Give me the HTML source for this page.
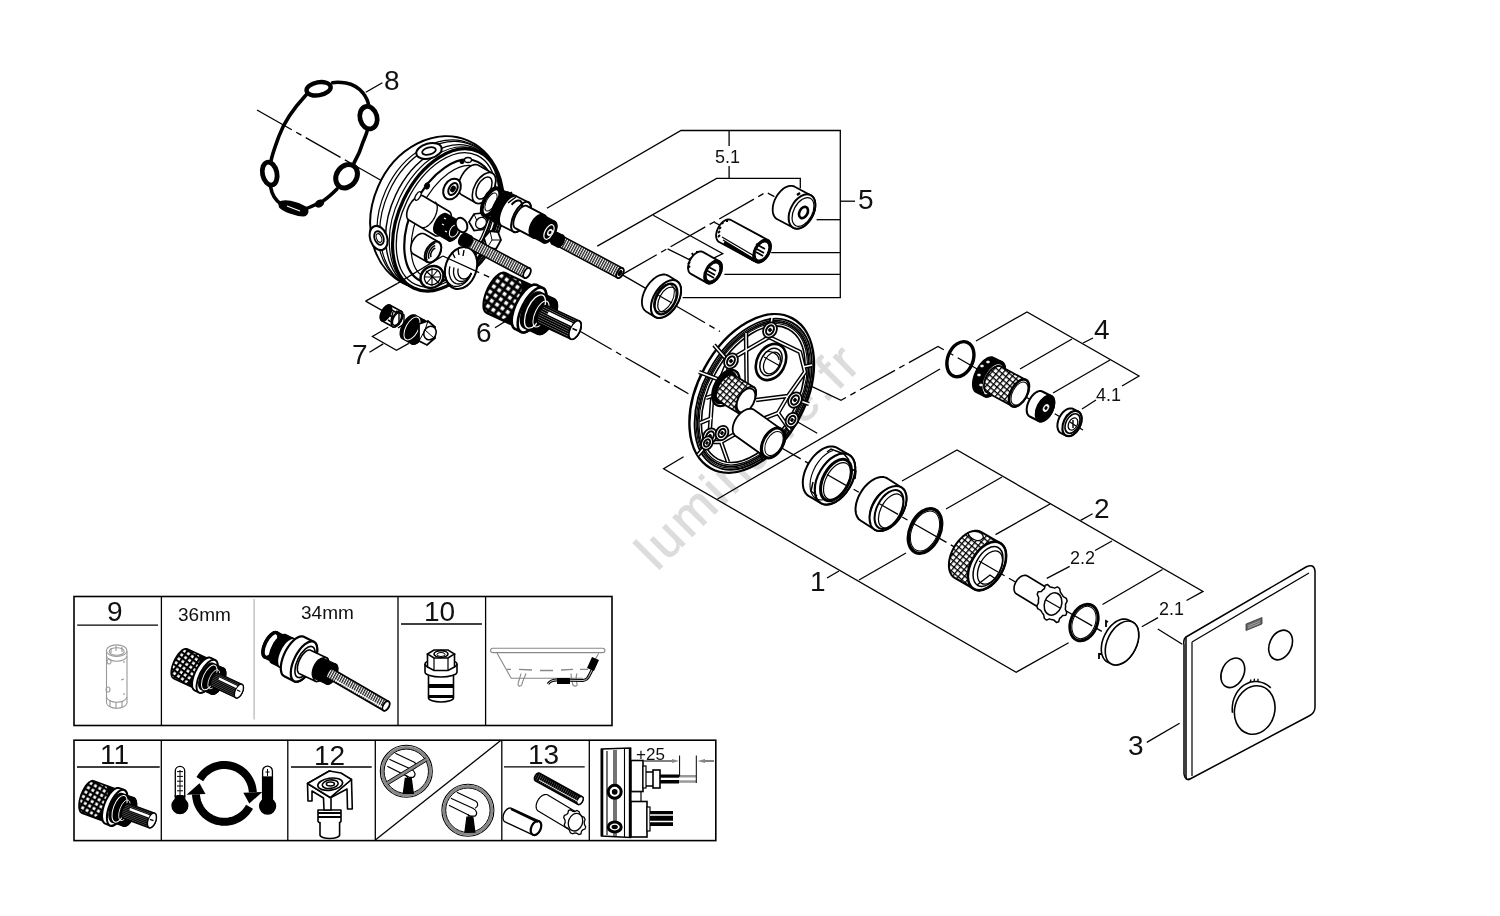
<!DOCTYPE html>
<html><head><meta charset="utf-8"><title>Parts diagram</title>
<style>
html,body{margin:0;padding:0;background:#fff;width:1500px;height:916px;overflow:hidden}
svg{display:block;font-family:"Liberation Sans",sans-serif;will-change:transform}
.l{stroke:#000;stroke-width:1.3;fill:none}
.dd{stroke:#000;stroke-width:1.3;fill:none;stroke-dasharray:40 5 6 5}
.t{font-size:28px;fill:#111}
.s{font-size:18px;fill:#111}
</style></head><body>
<svg width="1500" height="916" viewBox="0 0 1500 916">
<defs>
<pattern id="knurl" width="6" height="6" patternUnits="userSpaceOnUse" patternTransform="rotate(30)">
<rect width="6" height="6" fill="#000"/><rect x="1.5" y="1.5" width="3" height="3" fill="#fff"/>
</pattern>
<pattern id="knurl2" width="5" height="5" patternUnits="userSpaceOnUse" patternTransform="rotate(40)">
<rect width="5" height="5" fill="#000"/><rect x="1.3" y="1.3" width="2.6" height="2.6" fill="#fff"/>
</pattern>
<pattern id="knurl3" width="6.5" height="6.5" patternUnits="userSpaceOnUse" patternTransform="rotate(35)">
<rect width="6.5" height="6.5" fill="#000"/><rect x="1.6" y="1.6" width="3.6" height="3.6" fill="#fff"/>
</pattern>
<pattern id="lattice" width="4.6" height="4.6" patternUnits="userSpaceOnUse" patternTransform="rotate(40)">
<rect width="4.6" height="4.6" fill="#fff"/><rect width="4.6" height="1.3" fill="#000"/><rect width="1.3" height="4.6" fill="#000"/>
</pattern>
<pattern id="thread2" width="2.2" height="10" patternUnits="userSpaceOnUse" patternTransform="rotate(28)">
<rect width="2.2" height="10" fill="#555"/><rect width="1.5" height="10" fill="#000"/>
</pattern>
<pattern id="thread" width="2.4" height="10" patternUnits="userSpaceOnUse" patternTransform="rotate(28)">
<rect width="2.4" height="10" fill="#fff"/><rect width="1.3" height="10" fill="#222"/>
</pattern>
<pattern id="spline" width="2.2" height="10" patternUnits="userSpaceOnUse" patternTransform="rotate(-64)">
<rect width="2.2" height="10" fill="#fff"/><rect width="1.9" height="10" fill="#000"/>
</pattern>
</defs>

<text x="0" y="0" transform="translate(657,572) rotate(-45)" font-size="52" letter-spacing="3" fill="#dcdcdc" stroke="#dcdcdc" stroke-width="0.8">luminaire.fr</text>

<g class="l">
<polyline points="546.9,208.3 681,130.5 840.3,130.5 840.3,297.7 682.6,297.7"/>
<line x1="840.3" y1="201.2" x2="855" y2="201.2"/>
<line x1="816.6" y1="219.7" x2="840.3" y2="219.7"/>
<line x1="771.2" y1="252.6" x2="840.3" y2="252.6"/>
<line x1="724.4" y1="274.3" x2="840.3" y2="274.3"/>
<line x1="729.1" y1="130.5" x2="729.1" y2="146"/>
<line x1="729.1" y1="166" x2="729.1" y2="178.4"/>
<polyline points="597.3,246.1 716.6,178.4 800.3,178.4 800.3,188.4"/>
<polyline points="653.2,215.3 722.8,253.6 713.2,258.4"/>
<line x1="382.4" y1="82.7" x2="365.8" y2="92.3"/>
<polyline points="397.5,283.4 365.6,301.1"/>
<polyline points="388.2,327.2 372.4,336.5 396.5,350.3 408.8,343.4"/>
<line x1="369.5" y1="352.2" x2="383.2" y2="343.9"/>
<line x1="495" y1="327.7" x2="510.5" y2="318.3"/>
<polyline points="976,341 1027,312 1139,376 1122,386"/>
<line x1="1096" y1="400" x2="1082" y2="409"/>
<line x1="1072" y1="339" x2="1020" y2="369"/>
<line x1="1110" y1="360" x2="1053" y2="393"/>
<line x1="1083" y1="343" x2="1093" y2="338"/>
<line x1="717.2" y1="499.2" x2="940" y2="369"/>
<line x1="796" y1="421" x2="817.2" y2="433.2"/>
<polyline points="683.6,456.8 663.6,468.8 1016.2,672.2 1068.6,642.7"/>
<line x1="859" y1="580" x2="906" y2="553"/>
<line x1="827" y1="578" x2="839" y2="571"/>
<polyline points="902,481 957,450 1203,591.4 1186.5,600.5"/>
<line x1="946" y1="509" x2="1002" y2="477"/>
<line x1="995.5" y1="534.6" x2="1050" y2="504"/>
<line x1="1080.6" y1="520.4" x2="1092.6" y2="513.8"/>
<line x1="1095" y1="550.5" x2="1112" y2="541"/>
<line x1="1046.8" y1="578.3" x2="1069.7" y2="566.3"/>
<line x1="1102.5" y1="604.5" x2="1162.5" y2="569.5"/>
<line x1="1141.8" y1="626.8" x2="1158" y2="617.6"/>
<line x1="1146.8" y1="742.4" x2="1179.6" y2="723.3"/>
</g>
<g class="dd">
<line x1="257" y1="110" x2="383" y2="181.5"/>
<line x1="577" y1="329.5" x2="688.4" y2="393.7"/>
<polyline points="622,274.6 766,192.2 774.4,196.6"/>
<line x1="667.6" y1="248.8" x2="692.8" y2="261.4"/>
<line x1="714.4" y1="222.4" x2="721.6" y2="226"/>
<line x1="622" y1="274.6" x2="720" y2="331.5"/>
<line x1="365.6" y1="301.1" x2="383.7" y2="311.4"/>
<polyline points="810,385.6 841,400.3 938,346.4 1083,430"/>
<line x1="766" y1="439" x2="1125" y2="644.7"/>
<line x1="1157.8" y1="629" x2="1182.3" y2="644.2"/>
</g>
<g class="t">
<text x="384" y="90">8</text>
<text x="858" y="209">5</text>
<text x="476" y="342">6</text>
<text x="352" y="364">7</text>
<text x="1094" y="339">4</text>
<text x="810" y="591">1</text>
<text x="1094" y="518">2</text>
<text x="1128" y="755">3</text>
</g>
<g class="s">
<text x="715" y="163">5.1</text>
<text x="1096" y="401">4.1</text>
<text x="1070" y="564">2.2</text>
<text x="1159" y="615">2.1</text>
</g>

<g stroke="#000" fill="none" stroke-linecap="round">
<path stroke-width="3.6" d="M306,95 C294,108 284,122 279,136 C275,147 272,155 271,161 M270.6,187 C272,195 275,200 281,204 M305,209 C311,207 317,204 323,201 C329,197 333,193 337,189 M354,163 C358,156 361,149 363,142 C365,137 367,133 367.6,129 M368.5,105 C368,101 366,97 363,93 C358,87 352,84 346,83 C340,82 336,82 332.6,82.7"/>
</g>
<ellipse cx="318.6" cy="88.8" rx="12.2" ry="6.5" transform="rotate(-10 318.6 88.8)" fill="#fff" stroke="#000" stroke-width="4.4" />
<ellipse cx="368.5" cy="117.7" rx="11.4" ry="8.5" transform="rotate(75 368.5 117.7)" fill="#fff" stroke="#000" stroke-width="4.8" />
<ellipse cx="269.7" cy="173.6" rx="11.6" ry="7.2" transform="rotate(78 269.7 173.6)" fill="#fff" stroke="#000" stroke-width="4.8" />
<ellipse cx="346.6" cy="176.2" rx="12.5" ry="10" transform="rotate(-55 346.6 176.2)" fill="#fff" stroke="#000" stroke-width="5" />
<path d="M279,203 C284,199 296,202 305,207 C309,210 308,215 303,215.5 C295,215 284,211 280,207 Z" fill="#000" stroke="#000" stroke-width="2"/>
<path d="M287,206 L300,211" stroke="#fff" stroke-width="1.2"/>
<ellipse cx="319.5" cy="203.5" rx="4.5" ry="3.2" transform="rotate(-30 319.5 203.5)" fill="#000" stroke="#000" stroke-width="1" />
<ellipse cx="437.1" cy="212.6" rx="78.3" ry="64.5" transform="rotate(-66.7 437.1 212.6)" fill="#fff" stroke="#000" stroke-width="2" />
<ellipse cx="439.8" cy="214.8" rx="77.5" ry="59.3" transform="rotate(-66 439.8 214.8)" fill="none" stroke="#000" stroke-width="1.2" />
<ellipse cx="440.9" cy="215.7" rx="77.1" ry="57.2" transform="rotate(-65.7 440.9 215.7)" fill="none" stroke="#000" stroke-width="1.2" />
<ellipse cx="443.3" cy="217.6" rx="76.4" ry="52.7" transform="rotate(-65.1 443.3 217.6)" fill="none" stroke="#000" stroke-width="1.4" />
<ellipse cx="444.8" cy="218.8" rx="75.9" ry="49.8" transform="rotate(-64.7 444.8 218.8)" fill="none" stroke="#000" stroke-width="1.2" />
<ellipse cx="429" cy="151" rx="13" ry="7.5" transform="rotate(-15 429 151)" fill="#fff" stroke="#000" stroke-width="2" />
<ellipse cx="429" cy="151" rx="7" ry="3.6" transform="rotate(-15 429 151)" fill="#fff" stroke="#000" stroke-width="1.8" />
<ellipse cx="378.6" cy="238" rx="8.5" ry="12.5" transform="rotate(-20 378.6 238)" fill="#fff" stroke="#000" stroke-width="2" />
<ellipse cx="379" cy="238" rx="4.5" ry="7" transform="rotate(-20 379 238)" fill="#fff" stroke="#000" stroke-width="1.8" />
<ellipse cx="379" cy="238" rx="2.5" ry="4.5" transform="rotate(-20 379 238)" fill="none" stroke="#000" stroke-width="1" />
<ellipse cx="412" cy="278" rx="7" ry="4" transform="rotate(20 412 278)" fill="#fff" stroke="#000" stroke-width="1.5" />
<ellipse cx="446.2" cy="219.9" rx="75.5" ry="47.2" transform="rotate(-64.4 446.2 219.9)" fill="#fff" stroke="#000" stroke-width="3.2" />
<ellipse cx="446.2" cy="219.9" rx="71.5" ry="43.5" transform="rotate(-64.4 446.2 219.9)" fill="none" stroke="#000" stroke-width="1.3" />
<ellipse cx="449.2" cy="221.4" rx="66" ry="38.5" transform="rotate(-64.4 449.2 221.4)" fill="none" stroke="#000" stroke-width="2.2" />
<ellipse cx="451.2" cy="222.4" rx="61" ry="33.5" transform="rotate(-64.4 451.2 222.4)" fill="none" stroke="#000" stroke-width="1.2" />
<path d="M492.4,173.2 L493.4,174 L494.2,174.9 L494.9,176.1 L495.4,177.5 L495.6,179.1 L495.7,180.8 L495.6,182.7 L495.2,184.6 L494.7,186.6 L494,188.7 L493.1,190.7 L492.1,192.6 L490.9,194.5 L489.7,196.3 L488.3,197.9 L486.8,199.4 L485.3,200.7 L483.8,201.7 L482.3,202.5 L480.8,203.1 L479.3,203.4 L478,203.5 L476.7,203.2 L475.6,202.8 L461.6,194.8 L460.6,194 L459.8,193.1 L459.1,191.9 L458.6,190.5 L458.4,188.9 L458.3,187.2 L458.4,185.3 L458.8,183.4 L459.3,181.4 L460,179.3 L460.9,177.3 L461.9,175.4 L463.1,173.5 L464.3,171.7 L465.7,170.1 L467.2,168.6 L468.7,167.3 L470.2,166.3 L471.7,165.5 L473.2,164.9 L474.7,164.6 L476,164.5 L477.3,164.8 L478.4,165.2Z" fill="#fff" stroke="#000" stroke-width="1.6" stroke-linejoin="round"/>
<ellipse cx="484" cy="188" rx="17" ry="9.4" transform="rotate(-60.3 484 188)" fill="#fff" stroke="#000" stroke-width="1.6" />
<ellipse cx="484" cy="188" rx="12" ry="6.5" transform="rotate(-62 484 188)" fill="#fff" stroke="#000" stroke-width="1.5" />
<ellipse cx="452" cy="189" rx="11" ry="8" transform="rotate(-60 452 189)" fill="#fff" stroke="#000" stroke-width="2" />
<ellipse cx="453" cy="189" rx="6.5" ry="4" transform="rotate(-60 453 189)" fill="#fff" stroke="#000" stroke-width="2" />
<ellipse cx="453" cy="189" rx="3" ry="2" transform="rotate(-60 453 189)" fill="#000" stroke="#000" stroke-width="1" />
<ellipse cx="468" cy="160" rx="3.5" ry="2.5" transform="rotate(0 468 160)" fill="#fff" stroke="#000" stroke-width="1.3" />
<ellipse cx="462" cy="162" rx="2" ry="1.6" transform="rotate(0 462 162)" fill="#000" stroke="#000" stroke-width="1" />
<path d="M449.2,211.5 L449.9,212 L450.5,212.8 L450.9,213.8 L451.2,214.9 L451.3,216.1 L451.3,217.5 L451.1,219 L450.8,220.6 L450.3,222.2 L449.7,223.8 L448.9,225.5 L448,227.1 L447,228.6 L446,230.1 L444.8,231.4 L443.6,232.6 L442.4,233.7 L441.2,234.5 L440,235.2 L438.8,235.7 L437.7,236 L436.6,236 L435.7,235.9 L434.8,235.5 L408.8,220 L408.1,219.5 L407.5,218.7 L407.1,217.7 L406.8,216.6 L406.7,215.4 L406.7,214 L406.9,212.5 L407.2,210.9 L407.7,209.3 L408.3,207.7 L409.1,206 L410,204.4 L411,202.9 L412,201.4 L413.2,200.1 L414.4,198.9 L415.6,197.8 L416.8,197 L418,196.3 L419.2,195.8 L420.3,195.5 L421.4,195.5 L422.3,195.6 L423.2,196Z" fill="#fff" stroke="#000" stroke-width="1.6" stroke-linejoin="round"/>
<polyline points="434.8,201.7 435.9,202.6 436.7,204 437.2,205.7 437.3,207.8 437.1,210.2 436.5,212.7 435.6,215.3 434.4,217.9 432.9,220.3 431.3,222.5 429.5,224.4 427.7,225.9 425.9,227 424.1,227.6 422.6,227.7 421.2,227.3" fill="none" stroke="#000" stroke-width="1.3"/>
<path d="M459.5,221.5 L460.1,221.9 L460.5,222.5 L460.9,223.2 L461.1,224.1 L461.3,225.1 L461.3,226.2 L461.1,227.4 L460.9,228.6 L460.5,229.9 L460,231.2 L459.4,232.5 L458.8,233.7 L458,235 L457.2,236.1 L456.3,237.2 L455.4,238.1 L454.4,239 L453.5,239.7 L452.5,240.2 L451.6,240.6 L450.7,240.9 L449.9,240.9 L449.2,240.8 L448.5,240.5 L435.5,233 L434.9,232.6 L434.5,232 L434.1,231.3 L433.9,230.4 L433.7,229.4 L433.7,228.3 L433.9,227.1 L434.1,225.9 L434.5,224.6 L435,223.3 L435.6,222 L436.2,220.8 L437,219.5 L437.8,218.4 L438.7,217.3 L439.6,216.4 L440.6,215.5 L441.5,214.8 L442.5,214.3 L443.4,213.9 L444.3,213.6 L445.1,213.6 L445.8,213.7 L446.5,214Z" fill="#000" stroke="#000" stroke-width="1.5" stroke-linejoin="round"/>
<ellipse cx="454" cy="231" rx="11" ry="5.5" transform="rotate(-60 454 231)" fill="#000" stroke="#000" stroke-width="1.5" />
<ellipse cx="454" cy="231" rx="6.5" ry="4" transform="rotate(-62 454 231)" fill="none" stroke="#fff" stroke-width="1" />
<path d="M444,218 l2,1 M442,224 l2,1 M445,231 l2,1" stroke="#fff" stroke-width="1.2"/>
<ellipse cx="461.5" cy="225" rx="5.5" ry="7.5" transform="rotate(-25 461.5 225)" fill="#fff" stroke="#000" stroke-width="2" />
<polygon points="469,222 474,214 483,213 488,220 483,229.5 474,230.5" fill="#fff" stroke="#000" stroke-width="1.7"/>
<polyline points="474,214 477,221 488,220 M477,221 474,230.5" fill="none" stroke="#000" stroke-width="1"/>
<ellipse cx="481" cy="223" rx="6" ry="5" transform="rotate(-50 481 223)" fill="#fff" stroke="#000" stroke-width="1.3" />
<polygon points="484,238 490,231 498,232 501,240 496,249 487,248" fill="#fff" stroke="#000" stroke-width="1.8"/>
<path d="M490,231 L492,240 L501,240 M492,240 L487,248" fill="none" stroke="#000" stroke-width="1"/>
<path d="M438.7,242 L439.4,242.5 L440.1,243.2 L440.6,244.1 L440.9,245.1 L441.2,246.2 L441.3,247.4 L441.2,248.6 L441,250 L440.7,251.3 L440.3,252.7 L439.7,254.1 L439,255.4 L438.2,256.7 L437.3,257.9 L436.4,259 L435.3,260 L434.3,260.8 L433.2,261.5 L432.1,262 L431.1,262.4 L430,262.5 L429,262.5 L428.1,262.3 L427.3,262 L413.3,254 L412.6,253.5 L411.9,252.8 L411.4,251.9 L411.1,250.9 L410.8,249.8 L410.7,248.6 L410.8,247.4 L411,246 L411.3,244.7 L411.7,243.3 L412.3,241.9 L413,240.6 L413.8,239.3 L414.7,238.1 L415.6,237 L416.7,236 L417.7,235.2 L418.8,234.5 L419.9,234 L420.9,233.6 L422,233.5 L423,233.5 L423.9,233.7 L424.7,234Z" fill="#fff" stroke="#000" stroke-width="1.6" stroke-linejoin="round"/>
<ellipse cx="433" cy="252" rx="11.5" ry="6.9" transform="rotate(-60.3 433 252)" fill="#fff" stroke="#000" stroke-width="2" />
<polyline points="427.1,260.2 426.5,258.7 426.3,256.9 426.4,254.9 426.9,252.7 427.8,250.5 428.9,248.4 430.3,246.5 431.9,245 433.5,243.8 435.1,243.1" fill="none" stroke="#000" stroke-width="1.5"/>
<polyline points="429.1,258.7 428.6,257.5 428.5,256.2 428.6,254.6 429,252.9 429.6,251.3 430.5,249.7 431.6,248.3 432.7,247.1 434,246.2 435.2,245.6" fill="none" stroke="#000" stroke-width="1.5"/>
<polyline points="431.1,257.1 430.8,256.4 430.7,255.4 430.7,254.3 431,253.2 431.5,252 432.1,250.9 432.8,250 433.6,249.1 434.5,248.5 435.3,248.1" fill="none" stroke="#000" stroke-width="1.5"/>
<ellipse cx="432" cy="277" rx="12" ry="10.5" transform="rotate(-35 432 277)" fill="#fff" stroke="#000" stroke-width="2.4" />
<ellipse cx="432.5" cy="277" rx="8.5" ry="7.5" transform="rotate(-35 432.5 277)" fill="#fff" stroke="#000" stroke-width="1.4" />
<path d="M426,271 L439,283 M438,270 L426,284 M432,268 L432,286 M424,277 L441,277" stroke="#000" stroke-width="1.1"/>
<ellipse cx="461" cy="268" rx="21.5" ry="15.5" transform="rotate(-72 461 268)" fill="#fff" stroke="#000" stroke-width="2" />
<polyline points="471.3,273.7 469.5,277.3 467.3,280.5 464.7,283.1 461.9,285 458.9,286.2 456,286.5 453.1,286.1 450.6,284.8 448.4,282.8 446.7,280.1 445.5,276.8 444.9,273.2 445,269.3 445.7,265.4" fill="none" stroke="#000" stroke-width="1.3"/>
<polyline points="471.3,273.4 469.8,276.4 468,279 465.8,281.2 463.5,282.8 461,283.7 458.5,284 456.1,283.6 454,282.6 452.1,280.9 450.7,278.6 449.7,275.9 449.2,272.9 449.3,269.7 449.9,266.4" fill="none" stroke="#000" stroke-width="1.3"/>
<polyline points="471.3,273 470.1,275.4 468.6,277.5 466.9,279.2 465,280.5 463,281.3 461,281.5 459.1,281.2 457.4,280.3 455.9,279 454.7,277.2 453.9,275 453.5,272.6 453.6,270 454,267.4" fill="none" stroke="#000" stroke-width="1.3"/>
<polyline points="471.3,272.7 470.4,274.5 469.3,276 468,277.3 466.6,278.3 465.1,278.8 463.5,279 462.1,278.7 460.8,278.1 459.7,277.1 458.8,275.7 458.2,274.1 457.9,272.3 457.9,270.4 458.2,268.5" fill="none" stroke="#000" stroke-width="1.3"/>
<path d="M452,252 l3,6 M458,249 l1,6 M464,250 l-1,6" stroke="#000" stroke-width="1.4"/>
<ellipse cx="427" cy="186" rx="2.6" ry="3.2" transform="rotate(20 427 186)" fill="#000" stroke="#000" stroke-width="0.8" />
<ellipse cx="418" cy="196" rx="2.2" ry="4.8" transform="rotate(30 418 196)" fill="#fff" stroke="#000" stroke-width="1.3" />
<path d="M397.5,283.4 L442.8,256" stroke="#000" stroke-width="1.3" fill="none"/>
<path d="M442.8,256 L492,278.5" class="dd"/>
<path d="M529.6,268.1 L529.9,268.4 L530.2,268.7 L530.4,269.1 L530.6,269.5 L530.7,270 L530.7,270.6 L530.7,271.2 L530.6,271.8 L530.5,272.5 L530.2,273.1 L530,273.8 L529.7,274.4 L529.3,275 L528.9,275.6 L528.5,276.2 L528,276.7 L527.5,277.1 L527.1,277.4 L526.6,277.7 L526.1,277.9 L525.6,278 L525.2,278.1 L524.8,278 L524.4,277.9 L464.4,245.9 L464.1,245.6 L463.8,245.3 L463.6,244.9 L463.4,244.5 L463.3,244 L463.3,243.4 L463.3,242.8 L463.4,242.2 L463.5,241.5 L463.8,240.9 L464,240.2 L464.3,239.6 L464.7,239 L465.1,238.4 L465.5,237.8 L466,237.3 L466.5,236.9 L466.9,236.6 L467.4,236.3 L467.9,236.1 L468.4,236 L468.8,235.9 L469.2,236 L469.6,236.1Z" fill="url(#thread)" stroke="#000" stroke-width="1.5" stroke-linejoin="round"/>
<ellipse cx="527" cy="273" rx="5.5" ry="3" transform="rotate(-61.9 527 273)" fill="#fff" stroke="#000" stroke-width="1.8" />
<path d="M471.2,236.1 L471.6,236.4 L471.9,236.8 L472.1,237.2 L472.3,237.8 L472.4,238.4 L472.5,239 L472.4,239.7 L472.3,240.5 L472.1,241.2 L471.8,242 L471.5,242.8 L471.1,243.5 L470.7,244.3 L470.2,245 L469.7,245.6 L469.1,246.1 L468.5,246.6 L468,247 L467.4,247.4 L466.8,247.6 L466.3,247.7 L465.7,247.7 L465.3,247.7 L464.8,247.5 L459.8,244.7 L459.4,244.4 L459.1,244 L458.9,243.6 L458.7,243 L458.6,242.4 L458.5,241.8 L458.6,241.1 L458.7,240.3 L458.9,239.6 L459.2,238.8 L459.5,238 L459.9,237.3 L460.3,236.5 L460.8,235.8 L461.3,235.2 L461.9,234.7 L462.5,234.2 L463,233.8 L463.6,233.4 L464.2,233.2 L464.7,233.1 L465.3,233.1 L465.7,233.1 L466.2,233.3Z" fill="#000" stroke="#000" stroke-width="1.2" stroke-linejoin="round"/>
<ellipse cx="468" cy="241.8" rx="6.5" ry="3.6" transform="rotate(-60.8 468 241.8)" fill="#000" stroke="#000" stroke-width="1.2" />
<path d="M507.7,193.6 L508.4,194.1 L509,194.8 L509.5,195.8 L509.8,196.9 L510,198.2 L510,199.6 L509.9,201.2 L509.6,202.9 L509.1,204.7 L508.6,206.4 L507.9,208.2 L507,210 L506.1,211.7 L505.1,213.4 L504,214.9 L502.9,216.3 L501.7,217.6 L500.5,218.6 L499.4,219.5 L498.2,220.1 L497.1,220.6 L496.1,220.7 L495.1,220.7 L494.3,220.4 L484.3,215.4 L483.6,214.9 L483,214.2 L482.5,213.2 L482.2,212.1 L482,210.8 L482,209.4 L482.1,207.8 L482.4,206.1 L482.9,204.3 L483.4,202.6 L484.1,200.8 L485,199 L485.9,197.3 L486.9,195.6 L488,194.1 L489.1,192.7 L490.3,191.4 L491.5,190.4 L492.6,189.5 L493.8,188.9 L494.9,188.4 L495.9,188.3 L496.9,188.3 L497.7,188.6Z" fill="#fff" stroke="#000" stroke-width="3.2" stroke-linejoin="round"/>
<ellipse cx="501" cy="207" rx="15" ry="6.8" transform="rotate(-63.4 501 207)" fill="#fff" stroke="#000" stroke-width="3.2" />
<ellipse cx="491" cy="202" rx="15" ry="6.8" transform="rotate(-62 491 202)" fill="#fff" stroke="#000" stroke-width="3.8" />
<ellipse cx="491" cy="202" rx="10" ry="4.5" transform="rotate(-62 491 202)" fill="#fff" stroke="#000" stroke-width="1" />
<path d="M516.4,196.2 L517.2,196.8 L517.8,197.6 L518.4,198.6 L518.7,199.9 L518.9,201.3 L518.9,202.9 L518.8,204.7 L518.4,206.5 L518,208.4 L517.3,210.4 L516.5,212.4 L515.6,214.3 L514.6,216.2 L513.5,218 L512.3,219.7 L511.1,221.3 L509.8,222.6 L508.5,223.8 L507.2,224.7 L505.9,225.4 L504.7,225.9 L503.6,226.1 L502.6,226.1 L501.6,225.8 L493.6,221.8 L492.8,221.2 L492.2,220.4 L491.6,219.4 L491.3,218.1 L491.1,216.7 L491.1,215.1 L491.2,213.3 L491.6,211.5 L492,209.6 L492.7,207.6 L493.5,205.6 L494.4,203.7 L495.4,201.8 L496.5,200 L497.7,198.3 L498.9,196.7 L500.2,195.4 L501.5,194.2 L502.8,193.3 L504.1,192.6 L505.3,192.1 L506.4,191.9 L507.4,191.9 L508.4,192.2Z" fill="#000" stroke="#000" stroke-width="1.3" stroke-linejoin="round"/>
<ellipse cx="509" cy="211" rx="16.5" ry="7.4" transform="rotate(-63.4 509 211)" fill="#000" stroke="#000" stroke-width="1.3" />
<path d="M528.4,202.2 L529.2,202.8 L529.8,203.6 L530.4,204.6 L530.7,205.9 L530.9,207.3 L530.9,208.9 L530.8,210.7 L530.4,212.5 L530,214.4 L529.3,216.4 L528.5,218.4 L527.6,220.3 L526.6,222.2 L525.5,224 L524.3,225.7 L523.1,227.3 L521.8,228.6 L520.5,229.8 L519.2,230.7 L517.9,231.4 L516.7,231.9 L515.6,232.1 L514.6,232.1 L513.6,231.8 L501.6,225.8 L500.8,225.2 L500.2,224.4 L499.6,223.4 L499.3,222.1 L499.1,220.7 L499.1,219.1 L499.2,217.3 L499.6,215.5 L500,213.6 L500.7,211.6 L501.5,209.6 L502.4,207.7 L503.4,205.8 L504.5,204 L505.7,202.3 L506.9,200.7 L508.2,199.4 L509.5,198.2 L510.8,197.3 L512.1,196.6 L513.3,196.1 L514.4,195.9 L515.4,195.9 L516.4,196.2Z" fill="#fff" stroke="#000" stroke-width="1.8" stroke-linejoin="round"/>
<ellipse cx="521" cy="217" rx="16.5" ry="7.4" transform="rotate(-63.4 521 217)" fill="#fff" stroke="#000" stroke-width="2" />
<path d="M504,198 L512,192 M508,203 L516,197" stroke="#000" stroke-width="1.5"/>
<polyline points="511.6,204.7 513.1,203.1 514.7,201.9 516.2,201 517.7,200.5 518.9,200.4 520,200.8 520.9,201.5 521.6,202.6 522,204.1 522.1,205.8 521.9,207.8 521.5,210" fill="none" stroke="#000" stroke-width="2"/>
<path d="M544.8,215.4 L545.4,215.9 L545.9,216.5 L546.3,217.3 L546.5,218.2 L546.7,219.3 L546.6,220.5 L546.5,221.9 L546.2,223.2 L545.8,224.7 L545.3,226.2 L544.7,227.7 L544,229.1 L543.2,230.5 L542.3,231.9 L541.4,233.2 L540.4,234.3 L539.4,235.3 L538.4,236.2 L537.4,236.9 L536.4,237.4 L535.5,237.7 L534.7,237.9 L533.9,237.8 L533.2,237.6 L515.2,228.1 L514.6,227.6 L514.1,227 L513.7,226.2 L513.5,225.3 L513.3,224.2 L513.4,223 L513.5,221.6 L513.8,220.3 L514.2,218.8 L514.7,217.3 L515.3,215.8 L516,214.4 L516.8,213 L517.7,211.6 L518.6,210.3 L519.6,209.2 L520.6,208.2 L521.6,207.3 L522.6,206.6 L523.6,206.1 L524.5,205.8 L525.3,205.6 L526.1,205.7 L526.8,205.9Z" fill="#fff" stroke="#000" stroke-width="1.8" stroke-linejoin="round"/>
<ellipse cx="539" cy="226.5" rx="12.5" ry="5.6" transform="rotate(-62.2 539 226.5)" fill="#fff" stroke="#000" stroke-width="1.8" />
<path d="M554.7,221.4 L555.4,221.9 L555.9,222.5 L556.3,223.3 L556.6,224.3 L556.7,225.4 L556.8,226.6 L556.7,227.8 L556.4,229.2 L556.1,230.6 L555.6,232 L555,233.5 L554.3,234.9 L553.5,236.2 L552.6,237.5 L551.7,238.7 L550.7,239.8 L549.7,240.7 L548.7,241.5 L547.7,242.1 L546.7,242.6 L545.7,242.8 L544.8,242.9 L544,242.8 L543.3,242.6 L531.3,236.1 L530.6,235.6 L530.1,235 L529.7,234.2 L529.4,233.2 L529.3,232.1 L529.2,230.9 L529.3,229.7 L529.6,228.3 L529.9,226.9 L530.4,225.5 L531,224 L531.7,222.6 L532.5,221.3 L533.4,220 L534.3,218.8 L535.3,217.7 L536.3,216.8 L537.3,216 L538.3,215.4 L539.3,214.9 L540.3,214.7 L541.2,214.6 L542,214.7 L542.7,214.9Z" fill="#000" stroke="#000" stroke-width="1.5" stroke-linejoin="round"/>
<ellipse cx="549" cy="232" rx="12" ry="6" transform="rotate(-61.6 549 232)" fill="#000" stroke="#000" stroke-width="1.5" />
<ellipse cx="549" cy="232" rx="8" ry="4" transform="rotate(-62 549 232)" fill="none" stroke="#fff" stroke-width="1.2" />
<ellipse cx="550" cy="232.5" rx="3.5" ry="2.2" transform="rotate(-62 550 232.5)" fill="#fff" stroke="#fff" stroke-width="0.8" />
<ellipse cx="550" cy="232.5" rx="1.6" ry="1.1" transform="rotate(-62 550 232.5)" fill="#000" stroke="#000" stroke-width="0.5" />
<path d="M622.6,268.1 L622.9,268.4 L623.2,268.7 L623.4,269.1 L623.6,269.5 L623.7,270 L623.7,270.6 L623.7,271.2 L623.6,271.8 L623.5,272.5 L623.2,273.1 L623,273.8 L622.7,274.4 L622.3,275 L621.9,275.6 L621.5,276.2 L621,276.7 L620.5,277.1 L620.1,277.4 L619.6,277.7 L619.1,277.9 L618.6,278 L618.2,278.1 L617.8,278 L617.4,277.9 L555.4,244.9 L555.1,244.6 L554.8,244.3 L554.6,243.9 L554.4,243.5 L554.3,243 L554.3,242.4 L554.3,241.8 L554.4,241.2 L554.5,240.5 L554.8,239.9 L555,239.2 L555.3,238.6 L555.7,238 L556.1,237.4 L556.5,236.8 L557,236.3 L557.5,235.9 L557.9,235.6 L558.4,235.3 L558.9,235.1 L559.4,235 L559.8,234.9 L560.2,235 L560.6,235.1Z" fill="url(#thread)" stroke="#000" stroke-width="1.5" stroke-linejoin="round"/>
<ellipse cx="620" cy="273" rx="5.5" ry="3" transform="rotate(-62 620 273)" fill="#fff" stroke="#000" stroke-width="1.8" />
<path d="M562.9,235.2 L563.3,235.4 L563.6,235.8 L563.9,236.2 L564.1,236.8 L564.3,237.4 L564.3,238 L564.3,238.7 L564.2,239.5 L564.1,240.3 L563.8,241 L563.5,241.8 L563.2,242.6 L562.8,243.3 L562.3,244 L561.8,244.7 L561.3,245.3 L560.8,245.8 L560.2,246.2 L559.6,246.6 L559.1,246.8 L558.5,247 L558,247 L557.5,247 L557.1,246.8 L552.1,244.3 L551.7,244.1 L551.4,243.7 L551.1,243.3 L550.9,242.7 L550.7,242.1 L550.7,241.5 L550.7,240.8 L550.8,240 L550.9,239.2 L551.2,238.5 L551.5,237.7 L551.8,236.9 L552.2,236.2 L552.7,235.5 L553.2,234.8 L553.7,234.2 L554.2,233.7 L554.8,233.3 L555.4,232.9 L555.9,232.7 L556.5,232.5 L557,232.5 L557.5,232.5 L557.9,232.7Z" fill="#000" stroke="#000" stroke-width="1.2" stroke-linejoin="round"/>
<ellipse cx="560" cy="241" rx="6.5" ry="3.6" transform="rotate(-63.4 560 241)" fill="#000" stroke="#000" stroke-width="1.2" />
<ellipse cx="620" cy="273" rx="3" ry="1.8" transform="rotate(-62 620 273)" fill="#000" stroke="#000" stroke-width="0.8" />
<g id="p6">
<path d="M537.3,288.1 L538.3,288.8 L539.2,289.8 L539.8,291.1 L540.3,292.7 L540.5,294.6 L540.5,296.7 L540.3,299 L539.9,301.4 L539.3,304 L538.5,306.6 L537.5,309.3 L536.4,311.9 L535.1,314.5 L533.7,316.9 L532.2,319.2 L530.6,321.4 L529,323.2 L527.3,324.9 L525.7,326.2 L524.1,327.2 L522.6,327.9 L521.1,328.3 L519.8,328.3 L518.7,327.9 L486.7,312.9 L485.7,312.2 L484.8,311.2 L484.2,309.9 L483.7,308.3 L483.5,306.4 L483.5,304.3 L483.7,302 L484.1,299.6 L484.7,297 L485.5,294.4 L486.5,291.7 L487.6,289.1 L488.9,286.5 L490.3,284.1 L491.8,281.8 L493.4,279.6 L495,277.8 L496.7,276.1 L498.3,274.8 L499.9,273.8 L501.4,273.1 L502.9,272.7 L504.2,272.7 L505.3,273.1Z" fill="url(#knurl3)" stroke="#000" stroke-width="2.2" stroke-linejoin="round"/>
<path d="M526.5,282.8 L527.5,283.5 L528.3,284.5 L529,285.9 L529.4,287.5 L529.6,289.4 L529.6,291.5 L529.4,293.8 L529,296.3 L528.4,298.8 L527.6,301.5 L526.6,304.1 L525.4,306.8 L524.1,309.4 L522.6,311.8 L521.1,314.1 L519.5,316.2 L517.9,318.1 L516.2,319.7 L514.6,321.1 L513,322.1 L511.4,322.8 L510,323.1 L508.7,323.1 L507.5,322.8 L499.5,319 L500.7,319.3 L502,319.3 L503.4,319 L505,318.3 L506.6,317.3 L508.2,315.9 L509.9,314.3 L511.5,312.4 L513.1,310.3 L514.6,308 L516.1,305.6 L517.4,303 L518.6,300.3 L519.6,297.7 L520.4,295 L521,292.5 L521.4,290 L521.6,287.7 L521.6,285.6 L521.4,283.7 L521,282.1 L520.3,280.7 L519.5,279.7 L518.5,279Z" fill="#000" stroke="none" stroke-width="0"/>
<path d="M537.9,288.2 L538.9,288.9 L539.7,290 L540.3,291.3 L540.7,293 L540.9,294.8 L540.9,297 L540.6,299.3 L540.1,301.7 L539.5,304.3 L538.6,306.9 L537.5,309.5 L536.3,312.2 L534.9,314.7 L533.5,317.1 L531.9,319.4 L530.2,321.5 L528.6,323.3 L526.9,324.9 L525.2,326.2 L523.6,327.2 L522,327.9 L520.6,328.2 L519.3,328.1 L518.1,327.8 L513.1,325.3 L514.3,325.6 L515.6,325.7 L517,325.4 L518.6,324.7 L520.2,323.7 L521.9,322.4 L523.6,320.8 L525.2,319 L526.9,316.9 L528.5,314.6 L529.9,312.2 L531.3,309.7 L532.5,307 L533.6,304.4 L534.5,301.8 L535.1,299.2 L535.6,296.8 L535.9,294.5 L535.9,292.3 L535.7,290.5 L535.3,288.8 L534.7,287.5 L533.9,286.4 L532.9,285.7Z" fill="#000" stroke="none" stroke-width="0"/>
<path d="M543,288.1 L544.1,288.9 L545,290 L545.6,291.5 L546.1,293.3 L546.3,295.4 L546.3,297.8 L546,300.3 L545.4,303 L544.7,305.9 L543.7,308.8 L542.6,311.7 L541.2,314.6 L539.7,317.4 L538.1,320.1 L536.3,322.6 L534.5,324.9 L532.6,327 L530.8,328.7 L528.9,330.2 L527.1,331.3 L525.4,332 L523.8,332.4 L522.3,332.3 L521,331.9 L515,328.9 L513.9,328.1 L513,327 L512.4,325.5 L511.9,323.7 L511.7,321.6 L511.7,319.2 L512,316.7 L512.6,314 L513.3,311.1 L514.3,308.2 L515.4,305.3 L516.8,302.4 L518.3,299.6 L519.9,296.9 L521.7,294.4 L523.5,292.1 L525.4,290 L527.2,288.3 L529.1,286.8 L530.9,285.7 L532.6,285 L534.2,284.6 L535.7,284.7 L537,285.1Z" fill="#fff" stroke="#000" stroke-width="2.6" stroke-linejoin="round"/>
<ellipse cx="532" cy="310" rx="24.5" ry="10.3" transform="rotate(-63.4 532 310)" fill="#fff" stroke="#000" stroke-width="2.6" />
<path d="M554.2,298.8 L555.2,299.4 L556,300.4 L556.6,301.6 L557.1,303 L557.4,304.7 L557.4,306.6 L557.3,308.7 L557,310.9 L556.5,313.1 L555.8,315.5 L555,317.9 L554,320.2 L552.8,322.5 L551.6,324.6 L550.2,326.7 L548.8,328.5 L547.3,330.2 L545.8,331.6 L544.3,332.8 L542.9,333.7 L541.5,334.3 L540.1,334.5 L538.9,334.5 L537.8,334.2 L523.8,327.7 L522.8,327.1 L522,326.1 L521.4,324.9 L520.9,323.5 L520.6,321.8 L520.6,319.9 L520.7,317.8 L521,315.6 L521.5,313.4 L522.2,311 L523,308.6 L524,306.3 L525.2,304 L526.4,301.9 L527.8,299.8 L529.2,298 L530.7,296.3 L532.2,294.9 L533.7,293.7 L535.1,292.8 L536.5,292.2 L537.9,292 L539.1,292 L540.2,292.3Z" fill="#000" stroke="#000" stroke-width="1.5" stroke-linejoin="round"/>
<ellipse cx="546" cy="316.5" rx="19.5" ry="8.8" transform="rotate(-65.1 546 316.5)" fill="#000" stroke="#000" stroke-width="1.5" />
<ellipse cx="535" cy="311.5" rx="18" ry="8" transform="rotate(-65 535 311.5)" fill="none" stroke="#fff" stroke-width="1.3" />
<ellipse cx="541" cy="314" rx="14" ry="6" transform="rotate(-65 541 314)" fill="none" stroke="#fff" stroke-width="1" />
<path d="M579.2,320.9 L579.8,321.3 L580.3,321.8 L580.7,322.4 L580.9,323.2 L581.1,324.1 L581.2,325.1 L581.2,326.2 L581,327.3 L580.8,328.5 L580.5,329.7 L580,330.9 L579.5,332.1 L578.9,333.3 L578.3,334.4 L577.6,335.4 L576.8,336.4 L576,337.2 L575.2,337.9 L574.4,338.5 L573.6,338.9 L572.8,339.2 L572.1,339.3 L571.4,339.3 L570.8,339.1 L538.8,324.1 L538.2,323.7 L537.7,323.2 L537.3,322.6 L537.1,321.8 L536.9,320.9 L536.8,319.9 L536.8,318.8 L537,317.7 L537.2,316.5 L537.5,315.3 L538,314.1 L538.5,312.9 L539.1,311.7 L539.7,310.6 L540.4,309.6 L541.2,308.6 L542,307.8 L542.8,307.1 L543.6,306.5 L544.4,306.1 L545.2,305.8 L545.9,305.7 L546.6,305.7 L547.2,305.9Z" fill="url(#spline)" stroke="#000" stroke-width="1.6" stroke-linejoin="round"/>
<ellipse cx="575" cy="330" rx="10" ry="5" transform="rotate(-64.9 575 330)" fill="#fff" stroke="#000" stroke-width="1.8" />
<path d="M548,313 L572,324.5" stroke="#fff" stroke-width="3.2"/>
<path d="M572.5,328.5 L577,330.5" stroke="#000" stroke-width="1.6"/>
</g>
<path d="M401.2,311.3 L401.7,311.6 L402.1,312.1 L402.4,312.7 L402.6,313.4 L402.7,314.2 L402.7,315 L402.6,316 L402.5,317 L402.2,318 L401.8,319 L401.4,320.1 L400.9,321.1 L400.3,322.1 L399.6,323 L399,323.9 L398.2,324.7 L397.5,325.4 L396.8,326 L396,326.4 L395.3,326.7 L394.6,326.9 L393.9,327 L393.3,326.9 L392.8,326.7 L381.8,320.7 L381.3,320.4 L380.9,319.9 L380.6,319.3 L380.4,318.6 L380.3,317.8 L380.3,317 L380.4,316 L380.5,315 L380.8,314 L381.2,313 L381.6,311.9 L382.1,310.9 L382.7,309.9 L383.4,309 L384,308.1 L384.8,307.3 L385.5,306.6 L386.2,306 L387,305.6 L387.7,305.3 L388.4,305.1 L389.1,305 L389.7,305.1 L390.2,305.3Z" fill="#fff" stroke="#000" stroke-width="1.6" stroke-linejoin="round"/>
<ellipse cx="397" cy="319" rx="8.8" ry="4.4" transform="rotate(-61.4 397 319)" fill="#fff" stroke="#000" stroke-width="1.6" />
<ellipse cx="386" cy="313" rx="8.8" ry="4.4" transform="rotate(-62 386 313)" fill="#000" stroke="#000" stroke-width="1.5" />
<path d="M390,309 L397,313 M389,315 L396,319 M388,320 L395,324" stroke="#000" stroke-width="1.6"/>
<ellipse cx="397" cy="319" rx="7" ry="3.6" transform="rotate(-62 397 319)" fill="#fff" stroke="#000" stroke-width="1.4" />
<path d="M396,311 L404,315 L404,324 L398,328 M399,313 L399,325 M393,312 l-2,8" stroke="#000" stroke-width="1.4" fill="none"/>
<path d="M424.6,320.2 L425.3,320.7 L425.9,321.4 L426.3,322.4 L426.6,323.4 L426.8,324.6 L426.8,326 L426.7,327.4 L426.4,328.9 L426,330.5 L425.4,332.1 L424.7,333.7 L423.9,335.3 L423,336.8 L422,338.2 L420.9,339.5 L419.8,340.7 L418.7,341.8 L417.5,342.7 L416.4,343.4 L415.3,343.9 L414.2,344.2 L413.2,344.2 L412.3,344.1 L411.4,343.8 L402.4,338.8 L401.7,338.3 L401.1,337.6 L400.7,336.6 L400.4,335.6 L400.2,334.4 L400.2,333 L400.3,331.6 L400.6,330.1 L401,328.5 L401.6,326.9 L402.3,325.3 L403.1,323.7 L404,322.2 L405,320.8 L406.1,319.5 L407.2,318.3 L408.3,317.2 L409.5,316.3 L410.6,315.6 L411.7,315.1 L412.8,314.8 L413.8,314.8 L414.7,314.9 L415.6,315.2Z" fill="#000" stroke="#000" stroke-width="1.3" stroke-linejoin="round"/>
<ellipse cx="418" cy="332" rx="13.5" ry="6.8" transform="rotate(-60.9 418 332)" fill="#000" stroke="#000" stroke-width="1.3" />
<ellipse cx="412" cy="328.5" rx="12.5" ry="6.2" transform="rotate(-62 412 328.5)" fill="none" stroke="#fff" stroke-width="1" />
<polygon points="419,324 428,321 435,327 435,338 427,345 419,341" fill="#fff" stroke="#000" stroke-width="1.8"/>
<ellipse cx="430" cy="333" rx="7" ry="6" transform="rotate(-62 430 333)" fill="#fff" stroke="#000" stroke-width="1.6" />
<path d="M428,321 L425,330 L419,341 M425,330 L434,338" stroke="#000" stroke-width="1" fill="none"/>
<path d="M677,281.1 L678.2,282.1 L679.3,283.3 L680.1,284.9 L680.7,286.7 L681,288.7 L681.1,290.8 L680.9,293.1 L680.5,295.5 L679.8,298 L678.9,300.5 L677.7,303 L676.4,305.4 L674.9,307.6 L673.2,309.8 L671.4,311.7 L669.5,313.5 L667.6,314.9 L665.6,316.2 L663.6,317.1 L661.7,317.7 L659.9,318 L658.1,318 L656.5,317.6 L655,316.9 L646,311.4 L644.8,310.4 L643.7,309.2 L642.9,307.6 L642.3,305.8 L642,303.8 L641.9,301.7 L642.1,299.4 L642.5,297 L643.2,294.5 L644.1,292 L645.3,289.5 L646.6,287.1 L648.1,284.9 L649.8,282.7 L651.6,280.8 L653.5,279 L655.4,277.6 L657.4,276.3 L659.4,275.4 L661.3,274.8 L663.1,274.5 L664.9,274.5 L666.5,274.9 L668,275.6Z" fill="#fff" stroke="#000" stroke-width="1.8" stroke-linejoin="round"/>
<ellipse cx="666" cy="299" rx="21" ry="12.2" transform="rotate(-58.6 666 299)" fill="#fff" stroke="#000" stroke-width="2" />
<ellipse cx="666" cy="299" rx="16.5" ry="9.5" transform="rotate(-62 666 299)" fill="#fff" stroke="#000" stroke-width="2.2" />
<ellipse cx="667" cy="299.5" rx="13.5" ry="7.6" transform="rotate(-62 667 299.5)" fill="#fff" stroke="#000" stroke-width="1.2" />
<ellipse cx="664" cy="298" rx="15" ry="8.6" transform="rotate(-62 664 298)" fill="none" stroke="#000" stroke-width="1" />
<path d="M657,294.5 L672,303" stroke="#000" stroke-width="1.3"/>
<path d="M719.1,261.1 L719.9,261.7 L720.6,262.4 L721.2,263.3 L721.6,264.4 L721.8,265.6 L722,266.9 L721.9,268.3 L721.7,269.7 L721.4,271.2 L720.9,272.7 L720.3,274.2 L719.5,275.7 L718.7,277.1 L717.7,278.4 L716.7,279.6 L715.6,280.6 L714.5,281.5 L713.3,282.3 L712.1,282.9 L711,283.3 L709.8,283.5 L708.8,283.5 L707.8,283.3 L706.9,282.9 L690.9,273.9 L690.1,273.3 L689.4,272.6 L688.8,271.7 L688.4,270.6 L688.2,269.4 L688,268.1 L688.1,266.7 L688.3,265.3 L688.6,263.8 L689.1,262.3 L689.7,260.8 L690.5,259.3 L691.3,257.9 L692.3,256.6 L693.3,255.4 L694.4,254.4 L695.5,253.5 L696.7,252.7 L697.9,252.1 L699,251.7 L700.2,251.5 L701.2,251.5 L702.2,251.7 L703.1,252.1Z" fill="#fff" stroke="#000" stroke-width="1.8" stroke-linejoin="round"/>
<ellipse cx="713" cy="272" rx="12.5" ry="7.5" transform="rotate(-60.6 713 272)" fill="#000" stroke="#000" stroke-width="1.8" />
<ellipse cx="713" cy="272" rx="9.8" ry="5.8" transform="rotate(-62 713 272)" fill="#fff" stroke="#000" stroke-width="1" />
<path d="M707,266 L716,271 M706,270 L715,275 M707,274 L714,278" stroke="#000" stroke-width="1.8"/>
<path d="M691,258 l-2,2 M690,262 l-2,2 M690,266 l-2,2 M693,255 l-1,-2 M697,253 l0,-2" stroke="#000" stroke-width="2"/>
<path d="M767.9,240 L768.8,240.6 L769.4,241.3 L770,242.2 L770.4,243.3 L770.7,244.4 L770.9,245.7 L770.9,247.1 L770.7,248.6 L770.4,250.1 L769.9,251.6 L769.3,253.1 L768.6,254.6 L767.8,256 L766.8,257.3 L765.8,258.5 L764.7,259.6 L763.6,260.5 L762.5,261.3 L761.3,261.9 L760.2,262.3 L759,262.5 L758,262.5 L757,262.4 L756.1,262 L719.1,242 L718.2,241.4 L717.6,240.7 L717,239.8 L716.6,238.7 L716.3,237.6 L716.1,236.3 L716.1,234.9 L716.3,233.4 L716.6,231.9 L717.1,230.4 L717.7,228.9 L718.4,227.4 L719.2,226 L720.2,224.7 L721.2,223.5 L722.3,222.4 L723.4,221.5 L724.5,220.7 L725.7,220.1 L726.8,219.7 L728,219.5 L729,219.5 L730,219.6 L730.9,220Z" fill="#fff" stroke="#000" stroke-width="1.8" stroke-linejoin="round"/>
<ellipse cx="762" cy="251" rx="12.5" ry="7.5" transform="rotate(-61.6 762 251)" fill="#000" stroke="#000" stroke-width="1.8" />
<ellipse cx="762" cy="251" rx="9.8" ry="5.8" transform="rotate(-62 762 251)" fill="#fff" stroke="#000" stroke-width="1" />
<path d="M756,244 L765,249 M755,248 L764,253 M756,252 L763,256" stroke="#000" stroke-width="1.8"/>
<path d="M722,237 L756,257 M723,240 L755,259.5" stroke="#000" stroke-width="1.2"/>
<path d="M724,242.5 L755,261" stroke="#000" stroke-width="3"/>
<path d="M721,227 l-2,2 M720,231 l-2,2 M720,235 l-2,2 M723,224 l-1,-2 M727,222 l0,-2" stroke="#000" stroke-width="2"/>
<path d="M810.7,195.2 L811.9,196 L813,197.1 L813.9,198.5 L814.6,200 L815.1,201.8 L815.3,203.8 L815.3,205.8 L815.1,208 L814.7,210.2 L814,212.5 L813.2,214.7 L812.1,216.9 L810.9,219 L809.5,220.9 L808,222.7 L806.4,224.3 L804.8,225.7 L803,226.9 L801.3,227.7 L799.5,228.3 L797.9,228.7 L796.2,228.7 L794.7,228.4 L793.3,227.8 L777.3,219.3 L776.1,218.5 L775,217.4 L774.1,216 L773.4,214.5 L772.9,212.7 L772.7,210.7 L772.7,208.7 L772.9,206.5 L773.3,204.3 L774,202 L774.8,199.8 L775.9,197.6 L777.1,195.5 L778.5,193.6 L780,191.8 L781.6,190.2 L783.2,188.8 L785,187.6 L786.7,186.8 L788.5,186.2 L790.1,185.8 L791.8,185.8 L793.3,186.1 L794.7,186.7Z" fill="#fff" stroke="#000" stroke-width="1.8" stroke-linejoin="round"/>
<ellipse cx="802" cy="211.5" rx="18.5" ry="11.5" transform="rotate(-62 802 211.5)" fill="#fff" stroke="#000" stroke-width="2" />
<ellipse cx="803" cy="212" rx="15.5" ry="9.3" transform="rotate(-62 803 212)" fill="none" stroke="#000" stroke-width="1.2" />
<ellipse cx="803.5" cy="212.5" rx="6" ry="4" transform="rotate(-62 803.5 212.5)" fill="#fff" stroke="#000" stroke-width="2.6" />
<path d="M797,195 l3,-2" stroke="#000" stroke-width="2.5"/>
<ellipse cx="751.7" cy="393.4" rx="85.4" ry="53.6" transform="rotate(-61.5 751.7 393.4)" fill="#fff" stroke="#000" stroke-width="2.4" />
<ellipse cx="753.2" cy="394.2" rx="81.4" ry="50" transform="rotate(-61.5 753.2 394.2)" fill="none" stroke="#000" stroke-width="1.8" />
<ellipse cx="753.2" cy="394.2" rx="79.6" ry="48.4" transform="rotate(-61.5 753.2 394.2)" fill="none" stroke="#000" stroke-width="1.2" />
<ellipse cx="753.2" cy="394.2" rx="78" ry="46.9" transform="rotate(-61.5 753.2 394.2)" fill="none" stroke="#000" stroke-width="1.8" />
<ellipse cx="753.2" cy="394.2" rx="76.4" ry="45.5" transform="rotate(-61.5 753.2 394.2)" fill="none" stroke="#000" stroke-width="1.1" />
<ellipse cx="753.2" cy="394.2" rx="73.9" ry="43.2" transform="rotate(-61.5 753.2 394.2)" fill="none" stroke="#000" stroke-width="1.6" />
<path d="M746,333 L747,420 M769,337 L728,361 L722,380 M769,337 L800,352 L805,372 L788,396 L778,413 L760,420 M788,396 L756,400 M728,361 L712,400 L709,442 L721,442 L742,430 M709,442 L698,455 M721,442 L728,462 M778,413 L790,430 M706,398 L724,392 M700,423 L712,418 M803,367 L812,365 M792,398 L809,404 M699,372 L720,380 M769,337 L772,318 M728,361 L714,345" stroke="#000" stroke-width="4.4" fill="none" stroke-linejoin="round"/>
<path d="M746,333 L747,420 M769,337 L728,361 L722,380 M769,337 L800,352 L805,372 L788,396 L778,413 L760,420 M788,396 L756,400 M728,361 L712,400 L709,442 L721,442 L742,430 M709,442 L698,455 M721,442 L728,462 M778,413 L790,430 M706,398 L724,392 M700,423 L712,418 M803,367 L812,365 M792,398 L809,404 M699,372 L720,380 M769,337 L772,318 M728,361 L714,345" stroke="#fff" stroke-width="1.5" fill="none" stroke-linejoin="round"/>
<ellipse cx="770" cy="330" rx="8" ry="6.5" transform="rotate(-60 770 330)" fill="#fff" stroke="#000" stroke-width="1.8" />
<ellipse cx="770" cy="330" rx="5" ry="3.5" transform="rotate(-60 770 330)" fill="#fff" stroke="#000" stroke-width="2" />
<ellipse cx="770" cy="330" rx="1.8" ry="1.5" transform="rotate(-60 770 330)" fill="#000" stroke="#000" stroke-width="0.8" />
<ellipse cx="731" cy="361" rx="8" ry="6.5" transform="rotate(-60 731 361)" fill="#fff" stroke="#000" stroke-width="1.8" />
<ellipse cx="731" cy="361" rx="5" ry="3.5" transform="rotate(-60 731 361)" fill="#fff" stroke="#000" stroke-width="2" />
<ellipse cx="731" cy="361" rx="1.8" ry="1.5" transform="rotate(-60 731 361)" fill="#000" stroke="#000" stroke-width="0.8" />
<ellipse cx="795" cy="400" rx="8" ry="6.5" transform="rotate(-60 795 400)" fill="#fff" stroke="#000" stroke-width="1.8" />
<ellipse cx="795" cy="400" rx="5" ry="3.5" transform="rotate(-60 795 400)" fill="#fff" stroke="#000" stroke-width="2" />
<ellipse cx="795" cy="400" rx="1.8" ry="1.5" transform="rotate(-60 795 400)" fill="#000" stroke="#000" stroke-width="0.8" />
<ellipse cx="792" cy="420" rx="7.5" ry="6" transform="rotate(-60 792 420)" fill="#fff" stroke="#000" stroke-width="1.8" />
<ellipse cx="792" cy="420" rx="4.5" ry="3.1" transform="rotate(-60 792 420)" fill="#fff" stroke="#000" stroke-width="2" />
<ellipse cx="792" cy="420" rx="1.6" ry="1.3" transform="rotate(-60 792 420)" fill="#000" stroke="#000" stroke-width="0.8" />
<ellipse cx="710" cy="436" rx="8" ry="6.5" transform="rotate(-60 710 436)" fill="#fff" stroke="#000" stroke-width="1.8" />
<ellipse cx="710" cy="436" rx="5" ry="3.5" transform="rotate(-60 710 436)" fill="#fff" stroke="#000" stroke-width="2" />
<ellipse cx="710" cy="436" rx="1.8" ry="1.5" transform="rotate(-60 710 436)" fill="#000" stroke="#000" stroke-width="0.8" />
<ellipse cx="722" cy="433" rx="7.5" ry="6" transform="rotate(-60 722 433)" fill="#fff" stroke="#000" stroke-width="1.8" />
<ellipse cx="722" cy="433" rx="4.5" ry="3.1" transform="rotate(-60 722 433)" fill="#fff" stroke="#000" stroke-width="2" />
<ellipse cx="722" cy="433" rx="1.6" ry="1.3" transform="rotate(-60 722 433)" fill="#000" stroke="#000" stroke-width="0.8" />
<ellipse cx="707" cy="443" rx="7" ry="5.5" transform="rotate(-60 707 443)" fill="#fff" stroke="#000" stroke-width="1.8" />
<ellipse cx="707" cy="443" rx="4" ry="2.8" transform="rotate(-60 707 443)" fill="#fff" stroke="#000" stroke-width="2" />
<ellipse cx="707" cy="443" rx="1.4" ry="1.2" transform="rotate(-60 707 443)" fill="#000" stroke="#000" stroke-width="0.8" />
<ellipse cx="771" cy="362" rx="19" ry="14" transform="rotate(-62 771 362)" fill="#fff" stroke="#000" stroke-width="2.6" />
<ellipse cx="771" cy="362" rx="14.5" ry="10" transform="rotate(-62 771 362)" fill="#fff" stroke="#000" stroke-width="1.5" />
<ellipse cx="772" cy="363" rx="11.5" ry="7.5" transform="rotate(-62 772 363)" fill="#fff" stroke="#000" stroke-width="1.2" />
<path d="M764,357 L780,366 M766,352 C772,350 779,355 779,360" stroke="#000" stroke-width="1.2" fill="none"/>
<ellipse cx="726" cy="388" rx="19.5" ry="11.5" transform="rotate(-62 726 388)" fill="#fff" stroke="#000" stroke-width="2.4" />
<ellipse cx="725" cy="387.5" rx="17.5" ry="9.5" transform="rotate(-62 725 387.5)" fill="#000" stroke="#000" stroke-width="1" />
<path d="M753.7,387.1 L754.5,387.8 L755.1,388.6 L755.6,389.6 L755.9,390.8 L756,392.1 L756,393.6 L755.8,395.2 L755.4,396.9 L754.9,398.6 L754.2,400.4 L753.4,402.1 L752.4,403.9 L751.4,405.5 L750.2,407.1 L749,408.5 L747.7,409.8 L746.4,410.9 L745.1,411.8 L743.8,412.6 L742.5,413.1 L741.3,413.4 L740.2,413.4 L739.2,413.3 L738.3,412.9 L718.3,400.9 L717.5,400.2 L716.9,399.4 L716.4,398.4 L716.1,397.2 L716,395.9 L716,394.4 L716.2,392.8 L716.6,391.1 L717.1,389.4 L717.8,387.6 L718.6,385.9 L719.6,384.1 L720.6,382.5 L721.8,380.9 L723,379.5 L724.3,378.2 L725.6,377.1 L726.9,376.2 L728.2,375.4 L729.5,374.9 L730.7,374.6 L731.8,374.6 L732.8,374.7 L733.7,375.1Z" fill="url(#lattice)" stroke="#000" stroke-width="1.8" stroke-linejoin="round"/>
<ellipse cx="746" cy="400" rx="15" ry="7.5" transform="rotate(-59 746 400)" fill="#fff" stroke="#000" stroke-width="1.8" />
<ellipse cx="746" cy="400.5" rx="13" ry="8" transform="rotate(-62 746 400.5)" fill="#fff" stroke="#000" stroke-width="1.8" />
<path d="M782.3,430 L783.3,430.8 L784.1,431.9 L784.7,433.2 L785.1,434.6 L785.3,436.2 L785.3,437.9 L785.1,439.6 L784.6,441.5 L784,443.3 L783.2,445.2 L782.2,447 L781.1,448.8 L779.8,450.4 L778.4,451.9 L776.9,453.3 L775.3,454.5 L773.7,455.5 L772.1,456.3 L770.5,456.8 L769,457.2 L767.5,457.2 L766.1,457.1 L764.8,456.7 L763.7,456 L735.7,436 L734.7,435.2 L733.9,434.1 L733.3,432.8 L732.9,431.4 L732.7,429.8 L732.7,428.1 L732.9,426.4 L733.4,424.5 L734,422.7 L734.8,420.8 L735.8,419 L736.9,417.2 L738.2,415.6 L739.6,414.1 L741.1,412.7 L742.7,411.5 L744.3,410.5 L745.9,409.7 L747.5,409.2 L749,408.8 L750.5,408.8 L751.9,408.9 L753.2,409.3 L754.3,410Z" fill="#fff" stroke="#000" stroke-width="1.8" stroke-linejoin="round"/>
<ellipse cx="773" cy="443" rx="16" ry="9.9" transform="rotate(-54.5 773 443)" fill="#fff" stroke="#000" stroke-width="1.8" />
<ellipse cx="773" cy="443" rx="16" ry="9.9" transform="rotate(-62 773 443)" fill="#fff" stroke="#000" stroke-width="3" />
<ellipse cx="774" cy="443.5" rx="13" ry="7.8" transform="rotate(-62 774 443.5)" fill="#fff" stroke="#000" stroke-width="1" />
<path d="M760,455 l2,5 l4,-1" stroke="#000" stroke-width="1.5" fill="none"/>
<ellipse cx="960.4" cy="359.2" rx="18.2" ry="12.6" transform="rotate(-68 960.4 359.2)" fill="none" stroke="#000" stroke-width="3.4" />
<path d="M1001.7,361.6 L1002.8,362.3 L1003.7,363.3 L1004.4,364.6 L1004.9,366.1 L1005.2,367.8 L1005.3,369.8 L1005.2,371.8 L1004.9,374.1 L1004.4,376.4 L1003.7,378.7 L1002.8,381 L1001.7,383.4 L1000.5,385.6 L999.2,387.7 L997.7,389.7 L996.2,391.5 L994.6,393.1 L993,394.4 L991.4,395.5 L989.8,396.3 L988.3,396.8 L986.8,397 L985.5,396.9 L984.3,396.4 L976.3,392.4 L975.2,391.7 L974.3,390.7 L973.6,389.4 L973.1,387.9 L972.8,386.2 L972.7,384.2 L972.8,382.2 L973.1,379.9 L973.6,377.6 L974.3,375.3 L975.2,373 L976.3,370.6 L977.5,368.4 L978.8,366.3 L980.3,364.3 L981.8,362.5 L983.4,360.9 L985,359.6 L986.6,358.5 L988.2,357.7 L989.7,357.2 L991.2,357 L992.5,357.1 L993.7,357.6Z" fill="#000" stroke="#000" stroke-width="1.5" stroke-linejoin="round"/>
<ellipse cx="993" cy="379" rx="19.5" ry="9.8" transform="rotate(-63.4 993 379)" fill="#000" stroke="#000" stroke-width="1.5" />
<ellipse cx="993" cy="379" rx="15.5" ry="7.6" transform="rotate(-62 993 379)" fill="none" stroke="#fff" stroke-width="1.1" />
<ellipse cx="982" cy="366" rx="1.6" ry="1.1" transform="rotate(0 982 366)" fill="#fff" stroke="#fff" stroke-width="0.5" />
<ellipse cx="979" cy="375" rx="1.6" ry="1.1" transform="rotate(0 979 375)" fill="#fff" stroke="#fff" stroke-width="0.5" />
<ellipse cx="981" cy="385" rx="1.6" ry="1.1" transform="rotate(0 981 385)" fill="#fff" stroke="#fff" stroke-width="0.5" />
<ellipse cx="988" cy="362" rx="1.6" ry="1.1" transform="rotate(0 988 362)" fill="#fff" stroke="#fff" stroke-width="0.5" />
<ellipse cx="986" cy="393" rx="1.6" ry="1.1" transform="rotate(0 986 393)" fill="#fff" stroke="#fff" stroke-width="0.5" />
<path d="M1026,380 L1026.9,380.6 L1027.6,381.4 L1028.2,382.4 L1028.7,383.7 L1028.9,385 L1029,386.5 L1029,388.1 L1028.7,389.8 L1028.3,391.6 L1027.7,393.4 L1027,395.1 L1026.2,396.9 L1025.2,398.5 L1024.1,400.1 L1022.9,401.6 L1021.7,402.9 L1020.4,404 L1019.1,404.9 L1017.8,405.7 L1016.5,406.2 L1015.2,406.5 L1014.1,406.6 L1013,406.4 L1012,406 L987,392.5 L986.1,391.9 L985.4,391.1 L984.8,390.1 L984.3,388.8 L984.1,387.5 L984,386 L984,384.4 L984.3,382.7 L984.7,380.9 L985.3,379.1 L986,377.4 L986.8,375.6 L987.8,374 L988.9,372.4 L990.1,370.9 L991.3,369.6 L992.6,368.5 L993.9,367.6 L995.2,366.8 L996.5,366.3 L997.8,366 L998.9,365.9 L1000,366.1 L1001,366.5Z" fill="url(#lattice)" stroke="#000" stroke-width="1.8" stroke-linejoin="round"/>
<ellipse cx="1019" cy="393" rx="14.8" ry="8.1" transform="rotate(-61.6 1019 393)" fill="#fff" stroke="#000" stroke-width="2.6" />
<ellipse cx="1019.5" cy="393.5" rx="12.5" ry="7" transform="rotate(-62 1019.5 393.5)" fill="#fff" stroke="#000" stroke-width="1.1" />
<path d="M1051.3,396 L1052.1,396.5 L1052.8,397.3 L1053.4,398.2 L1053.9,399.4 L1054.2,400.7 L1054.3,402.1 L1054.3,403.6 L1054.1,405.2 L1053.8,406.9 L1053.3,408.6 L1052.6,410.3 L1051.9,411.9 L1051,413.5 L1050,415.1 L1049,416.5 L1047.8,417.7 L1046.7,418.9 L1045.4,419.8 L1044.2,420.5 L1043,421.1 L1041.9,421.4 L1040.7,421.5 L1039.7,421.4 L1038.7,421 L1029.7,416.5 L1028.9,416 L1028.2,415.2 L1027.6,414.3 L1027.1,413.1 L1026.8,411.8 L1026.7,410.4 L1026.7,408.9 L1026.9,407.3 L1027.2,405.6 L1027.7,403.9 L1028.4,402.2 L1029.1,400.6 L1030,399 L1031,397.4 L1032,396 L1033.2,394.8 L1034.3,393.6 L1035.6,392.7 L1036.8,392 L1038,391.4 L1039.1,391.1 L1040.3,391 L1041.3,391.1 L1042.3,391.5Z" fill="#fff" stroke="#000" stroke-width="2" stroke-linejoin="round"/>
<ellipse cx="1045" cy="408.5" rx="14" ry="7.7" transform="rotate(-63.4 1045 408.5)" fill="#000" stroke="#000" stroke-width="2" />
<ellipse cx="1046" cy="408" rx="4" ry="2.5" transform="rotate(-62 1046 408)" fill="#fff" stroke="#fff" stroke-width="0.5" />
<ellipse cx="1046" cy="408" rx="1.8" ry="1.2" transform="rotate(-62 1046 408)" fill="#000" stroke="#000" stroke-width="0.5" />
<path d="M1078,411.4 L1079,412 L1079.8,412.8 L1080.4,413.8 L1081,414.9 L1081.3,416.2 L1081.6,417.6 L1081.6,419.1 L1081.5,420.7 L1081.2,422.3 L1080.8,424 L1080.2,425.6 L1079.5,427.2 L1078.6,428.8 L1077.7,430.2 L1076.6,431.6 L1075.5,432.8 L1074.3,433.8 L1073,434.7 L1071.8,435.4 L1070.5,435.8 L1069.3,436.1 L1068.1,436.1 L1067,436 L1066,435.6 L1061,433.1 L1060,432.5 L1059.2,431.7 L1058.6,430.7 L1058,429.6 L1057.7,428.3 L1057.4,426.9 L1057.4,425.4 L1057.5,423.8 L1057.8,422.2 L1058.2,420.5 L1058.8,418.9 L1059.5,417.3 L1060.4,415.7 L1061.3,414.3 L1062.4,412.9 L1063.5,411.7 L1064.7,410.7 L1066,409.8 L1067.2,409.1 L1068.5,408.7 L1069.7,408.4 L1070.9,408.4 L1072,408.5 L1073,408.9Z" fill="#fff" stroke="#000" stroke-width="2" stroke-linejoin="round"/>
<ellipse cx="1072" cy="423.5" rx="13.5" ry="8.4" transform="rotate(-63.4 1072 423.5)" fill="#fff" stroke="#000" stroke-width="2.2" />
<ellipse cx="1072.5" cy="423.5" rx="10.5" ry="6.5" transform="rotate(-62 1072.5 423.5)" fill="none" stroke="#000" stroke-width="1.6" />
<ellipse cx="1073" cy="424" rx="6.5" ry="4.3" transform="rotate(-62 1073 424)" fill="none" stroke="#000" stroke-width="1.3" />
<path d="M1070,422 L1076,426 M1073,420 L1073,428" stroke="#000" stroke-width="1.4"/>
<g transform="translate(1,3)">
<path d="M848.1,451.8 L849.9,453.1 L851.4,454.8 L852.6,456.9 L853.5,459.3 L854,462 L854.2,464.9 L854.1,468 L853.6,471.2 L852.8,474.6 L851.7,477.9 L850.2,481.2 L848.5,484.5 L846.5,487.5 L844.4,490.4 L842,493.1 L839.5,495.4 L836.9,497.4 L834.3,499.1 L831.6,500.3 L829,501.2 L826.5,501.6 L824.1,501.6 L821.9,501.1 L819.9,500.2 L807.9,493.2 L806.1,491.9 L804.6,490.2 L803.4,488.1 L802.5,485.7 L802,483 L801.8,480.1 L801.9,477 L802.4,473.8 L803.2,470.4 L804.3,467.1 L805.8,463.8 L807.5,460.5 L809.5,457.5 L811.6,454.6 L814,451.9 L816.5,449.6 L819.1,447.6 L821.7,445.9 L824.4,444.7 L827,443.8 L829.5,443.4 L831.9,443.4 L834.1,443.9 L836.1,444.8Z" fill="#fff" stroke="#000" stroke-width="2" stroke-linejoin="round"/>
<ellipse cx="834" cy="476" rx="28" ry="16.8" transform="rotate(-59.7 834 476)" fill="#fff" stroke="#000" stroke-width="2.2" />
<ellipse cx="835" cy="477" rx="22.5" ry="12.8" transform="rotate(-62 835 477)" fill="#fff" stroke="#000" stroke-width="3" />
<ellipse cx="836" cy="478" rx="20" ry="11" transform="rotate(-62 836 478)" fill="none" stroke="#000" stroke-width="1.2" />
<path d="M826,449 l4,-3 l13,5 l5,6 M850,466 l5,2 l-1,8 M812,479 l-2,9 l6,5" stroke="#000" stroke-width="1.5" fill="none"/>
<polyline points="824.1,496.4 820.5,497 817.3,496.6 814.4,495.3 812.1,493.1 810.4,490.1 809.3,486.3 809,482.1 809.4,477.4 810.5,472.6 812.3,467.7 814.7,462.9 817.6,458.6 820.9,454.7 824.5,451.5 828.2,449.1 831.9,447.6" fill="none" stroke="#000" stroke-width="1.1"/>
</g>
<path d="M901.5,487.5 L903.1,488.7 L904.3,490.3 L905.3,492.2 L906,494.3 L906.4,496.8 L906.5,499.4 L906.2,502.1 L905.7,505 L904.8,507.9 L903.7,510.9 L902.3,513.8 L900.6,516.6 L898.7,519.3 L896.7,521.8 L894.5,524 L892.2,526 L889.8,527.7 L887.4,529.1 L885,530.1 L882.6,530.8 L880.3,531 L878.2,530.9 L876.2,530.4 L874.5,529.5 L860.5,520.5 L858.9,519.3 L857.7,517.7 L856.7,515.8 L856,513.7 L855.6,511.2 L855.5,508.6 L855.8,505.9 L856.3,503 L857.2,500.1 L858.3,497.1 L859.7,494.2 L861.4,491.4 L863.3,488.7 L865.3,486.2 L867.5,484 L869.8,482 L872.2,480.3 L874.6,478.9 L877,477.9 L879.4,477.2 L881.7,477 L883.8,477.1 L885.8,477.6 L887.5,478.5Z" fill="#fff" stroke="#000" stroke-width="2" stroke-linejoin="round"/>
<ellipse cx="888" cy="508.5" rx="25" ry="15" transform="rotate(-57.3 888 508.5)" fill="#fff" stroke="#000" stroke-width="2" />
<ellipse cx="889" cy="509.5" rx="21" ry="12" transform="rotate(-62 889 509.5)" fill="#fff" stroke="#000" stroke-width="2" />
<ellipse cx="891" cy="511" rx="18.5" ry="10.3" transform="rotate(-62 891 511)" fill="none" stroke="#000" stroke-width="1.2" />
<polyline points="871.1,523.5 870.1,521.4 869.6,518.9 869.4,516.2 869.6,513.2 870.2,510.2 871.1,507 872.4,503.9 874,500.9 875.8,498.1 877.9,495.5 880.1,493.3 882.4,491.4 884.8,490 887.2,489.1" fill="none" stroke="#000" stroke-width="1.2"/>
<ellipse cx="925" cy="531" rx="23.5" ry="15" transform="rotate(-66 925 531)" fill="none" stroke="#000" stroke-width="3.4" />
<ellipse cx="925" cy="531" rx="21" ry="13" transform="rotate(-66 925 531)" fill="none" stroke="#000" stroke-width="1" />
<path d="M1000.3,543.1 L1002,544.3 L1003.4,545.9 L1004.5,547.9 L1005.4,550.1 L1005.9,552.7 L1006.1,555.4 L1006,558.4 L1005.6,561.4 L1004.8,564.6 L1003.7,567.8 L1002.4,570.9 L1000.8,574 L998.9,576.9 L996.9,579.6 L994.6,582.1 L992.3,584.4 L989.8,586.3 L987.3,587.8 L984.8,589 L982.4,589.8 L980,590.2 L977.7,590.2 L975.6,589.8 L973.7,588.9 L954.7,577.9 L953,576.7 L951.6,575.1 L950.5,573.1 L949.6,570.9 L949.1,568.3 L948.9,565.6 L949,562.6 L949.4,559.6 L950.2,556.4 L951.3,553.2 L952.6,550.1 L954.2,547 L956.1,544.1 L958.1,541.4 L960.4,538.9 L962.7,536.6 L965.2,534.7 L967.7,533.2 L970.2,532 L972.6,531.2 L975,530.8 L977.3,530.8 L979.4,531.2 L981.3,532.1Z" fill="url(#lattice)" stroke="#000" stroke-width="2" stroke-linejoin="round"/>
<ellipse cx="987" cy="566" rx="26.5" ry="15.9" transform="rotate(-59.9 987 566)" fill="#fff" stroke="#000" stroke-width="2.6" />
<ellipse cx="988" cy="566.5" rx="21.5" ry="12.5" transform="rotate(-62 988 566.5)" fill="#fff" stroke="#000" stroke-width="1.5" />
<ellipse cx="990" cy="567.5" rx="18" ry="10.5" transform="rotate(-62 990 567.5)" fill="none" stroke="#000" stroke-width="1.3" />
<path d="M968,533 C975,529 985,533 983,538 C980,543 970,540 968,533 Z" fill="#fff" stroke="#000" stroke-width="1.3"/>
<path d="M977,585 L990,575 L997,580" stroke="#000" stroke-width="1.4" fill="none"/>
<path d="M1055.4,593 L1056.2,593.6 L1056.8,594.2 L1057.3,595.1 L1057.6,596 L1057.9,597 L1058,598.2 L1057.9,599.3 L1057.8,600.6 L1057.5,601.8 L1057,603.1 L1056.5,604.3 L1055.8,605.5 L1055.1,606.7 L1054.2,607.7 L1053.3,608.7 L1052.3,609.6 L1051.3,610.3 L1050.3,610.9 L1049.2,611.3 L1048.2,611.5 L1047.2,611.6 L1046.2,611.6 L1045.4,611.4 L1044.6,611 L1016.6,594 L1015.8,593.4 L1015.2,592.8 L1014.7,591.9 L1014.4,591 L1014.1,590 L1014,588.8 L1014.1,587.7 L1014.2,586.4 L1014.5,585.2 L1015,583.9 L1015.5,582.7 L1016.2,581.5 L1016.9,580.3 L1017.8,579.3 L1018.7,578.3 L1019.7,577.4 L1020.7,576.7 L1021.7,576.1 L1022.8,575.7 L1023.8,575.5 L1024.8,575.4 L1025.8,575.4 L1026.6,575.6 L1027.4,576Z" fill="#fff" stroke="#000" stroke-width="1.6" stroke-linejoin="round"/>
<polygon points="1066.3,598.3 1067.2,601.2 1065.5,604.1 1065.6,606.7 1065.3,609.2 1066.8,612.8 1065.8,615.3 1062.7,615.5 1061.3,617.1 1059.6,618.4 1058.7,621.8 1056.4,622.4 1053.7,619.9 1051.5,619.6 1049.4,618.9 1046.6,620.1 1044.4,618.5 1043.6,614.7 1042.1,612.6 1040.7,610.4 1037.7,608.7 1036.8,605.8 1038.5,602.9 1038.4,600.3 1038.7,597.8 1037.2,594.2 1038.2,591.7 1041.3,591.5 1042.7,589.9 1044.4,588.6 1045.3,585.2 1047.6,584.6 1050.3,587.1 1052.5,587.4 1054.6,588.1 1057.4,586.9 1059.6,588.5 1060.4,592.3 1061.9,594.4 1063.3,596.6" fill="#fff" stroke="#000" stroke-width="1.5" stroke-linejoin="round"/>
<ellipse cx="1053" cy="604" rx="11.5" ry="8.5" transform="rotate(-70 1053 604)" fill="#fff" stroke="#000" stroke-width="1.5" />
<ellipse cx="1084" cy="622.5" rx="19" ry="13.2" transform="rotate(-68 1084 622.5)" fill="none" stroke="#000" stroke-width="3" />
<ellipse cx="1084" cy="622.5" rx="16.8" ry="11.2" transform="rotate(-68 1084 622.5)" fill="none" stroke="#000" stroke-width="1" />
<path d="M1132.5,622 L1134.1,623 L1135.5,624.4 L1136.7,626.1 L1137.6,628.1 L1138.3,630.3 L1138.6,632.7 L1138.7,635.4 L1138.5,638.1 L1138.1,641 L1137.3,643.9 L1136.3,646.7 L1135,649.5 L1133.5,652.2 L1131.9,654.7 L1130,657.1 L1128,659.2 L1125.9,661 L1123.8,662.5 L1121.6,663.6 L1119.4,664.5 L1117.3,664.9 L1115.2,665 L1113.3,664.7 L1111.5,664 L1107.5,662 L1105.9,661 L1104.5,659.6 L1103.3,657.9 L1102.4,655.9 L1101.7,653.7 L1101.4,651.3 L1101.3,648.6 L1101.5,645.9 L1101.9,643 L1102.7,640.1 L1103.7,637.3 L1105,634.5 L1106.5,631.8 L1108.1,629.3 L1110,626.9 L1112,624.8 L1114.1,623 L1116.2,621.5 L1118.4,620.4 L1120.6,619.5 L1122.7,619.1 L1124.8,619 L1126.7,619.3 L1128.5,620Z" fill="#fff" stroke="#000" stroke-width="1.6" stroke-linejoin="round"/>
<ellipse cx="1122" cy="643" rx="23.5" ry="14.6" transform="rotate(-63.4 1122 643)" fill="#fff" stroke="#000" stroke-width="1.6" />
<path d="M1108,622 l-2,-1 l0,6 M1102,654 l-3,0 l0,5" stroke="#000" stroke-width="1.8" fill="none"/>
<path d="M827,474.5 L846,485.4 M879,503.5 L898,514.4 M979,561 L998,572 M1046,600 L1060,608" stroke="#000" stroke-width="1.3"/>
<path d="M1186,637 L1306,567 Q1314,563 1315,571 L1315,707 Q1315,713 1309,716 L1190,779 Q1186,781 1186,776 Z" fill="#fff" stroke="#000" stroke-width="1.5" stroke-linejoin="round"/>
<path d="M1186,637 Q1183,639 1184,645 L1184,774 Q1185,781 1190,779" fill="none" stroke="#000" stroke-width="1.5"/>
<path d="M1192,642 L1309,573 M1192,642 L1192,776" fill="none" stroke="#000" stroke-width="1.2"/>
<ellipse cx="1280.6" cy="645" rx="15.5" ry="11" transform="rotate(-65 1280.6 645)" fill="#fff" stroke="#000" stroke-width="1.6" />
<ellipse cx="1232.8" cy="672.8" rx="15.5" ry="11" transform="rotate(-65 1232.8 672.8)" fill="#fff" stroke="#000" stroke-width="1.6" />
<ellipse cx="1254.7" cy="710" rx="24.5" ry="20" transform="rotate(-75 1254.7 710)" fill="#fff" stroke="#000" stroke-width="1.6" />
<polyline points="1232.4,712.8 1232.2,710 1232.3,707.1 1232.6,704.2 1233.1,701.4 1233.9,698.7 1235,696.1 1236.2,693.6 1237.7,691.3 1239.4,689.2 1241.2,687.3 1243.2,685.7 1245.4,684.3 1247.7,683.2 1250,682.3 1252.4,681.8 1254.9,681.5 1257.3,681.6 1259.8,681.9 1262.2,682.6 1264.5,683.5 1266.7,684.7 1268.8,686.2 1270.8,687.9" fill="none" stroke="#000" stroke-width="1.5"/>
<path d="M1250,682.5 l1,-3 M1254,681.7 l0.5,-3 M1258,681.7 l0,-3" stroke="#000" stroke-width="1.3"/>
<path d="M1246,624 L1262,617.5 L1262,624 L1246,630.5 Z" fill="#666" stroke="#333" stroke-width="0.8"/>
<path d="M1248,626 l12,-5 M1248,628 l12,-5" stroke="#ccc" stroke-width="0.6"/>

<g id="boxes">
<rect x="74" y="596.5" width="538" height="129" fill="none" stroke="#000" stroke-width="1.6"/>
<line x1="161.4" y1="596.5" x2="161.4" y2="725.5" class="l" stroke-width="1.6"/>
<line x1="398" y1="596.5" x2="398" y2="725.5" class="l" stroke-width="1.6"/>
<line x1="485.6" y1="596.5" x2="485.6" y2="725.5" class="l" stroke-width="1.6"/>
<line x1="254.1" y1="599" x2="254.1" y2="719.5" stroke="#bbb" stroke-width="1.3"/>
<line x1="77.2" y1="625.1" x2="158" y2="625.1" class="l"/>
<line x1="401" y1="624" x2="481.9" y2="624" class="l"/>
<g class="t"><text x="107" y="621">9</text><text x="424" y="621">10</text></g>
<g style="font-size:19px" fill="#111"><text x="178" y="620.5">36mm</text><text x="301" y="619">34mm</text></g>
<rect x="74" y="740.2" width="641.8" height="100.4" fill="none" stroke="#000" stroke-width="1.6"/>
<line x1="161.3" y1="740.2" x2="161.3" y2="840.6" class="l" stroke-width="1.6"/>
<line x1="287.8" y1="740.2" x2="287.8" y2="840.6" class="l" stroke-width="1.6"/>
<line x1="375.3" y1="740.2" x2="375.3" y2="840.6" class="l" stroke-width="1.6"/>
<line x1="501.8" y1="740.2" x2="501.8" y2="840.6" class="l" stroke-width="1.6"/>
<line x1="589.3" y1="740.2" x2="589.3" y2="840.6" class="l" stroke-width="1.6"/>
<line x1="375.3" y1="840.1" x2="500.7" y2="740.5" class="l"/>
<line x1="77" y1="767" x2="159.7" y2="767" class="l"/>
<line x1="291" y1="767" x2="371.7" y2="767" class="l"/>
<line x1="504" y1="766.9" x2="584.7" y2="766.9" class="l"/>
<g class="t"><text x="100" y="764">11</text><text x="314" y="765">12</text><text x="528" y="764">13</text></g>
</g>

<g stroke="#999" stroke-width="1.1" fill="none">
<path d="M106.5,651 L106.5,703 M127,651 L127,703"/>
<ellipse cx="116.7" cy="650.7" rx="10.3" ry="5.8" fill="#fff"/><ellipse cx="116.7" cy="651.5" rx="7.5" ry="3.8"/>
<path d="M106.5,656 A10.3,5.8 0 0 0 127,656 M106.5,697 A10.3,5.8 0 0 0 127,697 M106.5,703 A10.3,5.8 0 0 0 127,703"/>
<path d="M111,648 l0,5 M116,646 l0,5 M122,647 l0,5 M110,700 l0,7 M116,702 l0,7 M122,701 l0,6"/>
<path d="M109,664 a2,2.5 0 1 1 0.1,0 M108,692 a2,2.5 0 1 1 0.1,0 M124,661 l0,2 M124,693 l0,2 M121,680 l3,-1"/>
</g>
<use href="#p6" transform="translate(177.5,661.5) scale(0.74) translate(-492,-290)"/>
<use href="#p6" transform="translate(84.7,795) rotate(-5) scale(0.78) translate(-492,-290)"/>
<path d="M286,637.4 L286.7,637.9 L287.2,638.5 L287.7,639.4 L287.9,640.4 L288.1,641.6 L288.1,642.9 L288,644.3 L287.7,645.8 L287.3,647.4 L286.8,649 L286.2,650.6 L285.4,652.2 L284.6,653.8 L283.7,655.2 L282.7,656.6 L281.7,657.9 L280.6,659 L279.6,660 L278.5,660.7 L277.5,661.3 L276.5,661.7 L275.6,661.9 L274.7,661.8 L274,661.6 L265,657.1 L264.3,656.6 L263.8,656 L263.3,655.1 L263.1,654.1 L262.9,652.9 L262.9,651.6 L263,650.2 L263.3,648.7 L263.7,647.1 L264.2,645.5 L264.8,643.9 L265.6,642.3 L266.4,640.7 L267.3,639.3 L268.3,637.9 L269.3,636.6 L270.4,635.5 L271.4,634.5 L272.5,633.8 L273.5,633.2 L274.5,632.8 L275.4,632.6 L276.3,632.7 L277,632.9Z" fill="#fff" stroke="#000" stroke-width="3.2" stroke-linejoin="round"/>
<ellipse cx="280" cy="649.5" rx="13.5" ry="6.1" transform="rotate(-63.4 280 649.5)" fill="#fff" stroke="#000" stroke-width="3.2" />
<ellipse cx="271" cy="645" rx="13.5" ry="6" transform="rotate(-64 271 645)" fill="#fff" stroke="#000" stroke-width="3.5" />
<path d="M294.2,638.7 L294.9,639.2 L295.6,640 L296.1,641 L296.4,642.2 L296.6,643.6 L296.6,645.2 L296.5,646.8 L296.2,648.6 L295.7,650.5 L295.1,652.4 L294.3,654.3 L293.4,656.2 L292.5,658.1 L291.4,659.8 L290.2,661.5 L289,662.9 L287.8,664.3 L286.5,665.4 L285.2,666.3 L284,667 L282.9,667.5 L281.8,667.7 L280.7,667.6 L279.8,667.3 L271.8,663.3 L271.1,662.8 L270.4,662 L269.9,661 L269.6,659.8 L269.4,658.4 L269.4,656.8 L269.5,655.2 L269.8,653.4 L270.3,651.5 L270.9,649.6 L271.7,647.7 L272.6,645.8 L273.5,643.9 L274.6,642.2 L275.8,640.5 L277,639.1 L278.2,637.7 L279.5,636.6 L280.8,635.7 L282,635 L283.1,634.5 L284.2,634.3 L285.3,634.4 L286.2,634.7Z" fill="#000" stroke="#000" stroke-width="1.2" stroke-linejoin="round"/>
<ellipse cx="287" cy="653" rx="16" ry="7.2" transform="rotate(-63.4 287 653)" fill="#000" stroke="#000" stroke-width="1.2" />
<path d="M301.2,642.2 L301.9,642.7 L302.6,643.5 L303.1,644.5 L303.4,645.7 L303.6,647.1 L303.6,648.7 L303.5,650.3 L303.2,652.1 L302.7,654 L302.1,655.9 L301.3,657.8 L300.4,659.7 L299.5,661.6 L298.4,663.3 L297.2,665 L296,666.4 L294.8,667.8 L293.5,668.9 L292.2,669.8 L291,670.5 L289.9,671 L288.8,671.2 L287.7,671.1 L286.8,670.8 L279.8,667.3 L279.1,666.8 L278.4,666 L277.9,665 L277.6,663.8 L277.4,662.4 L277.4,660.8 L277.5,659.2 L277.8,657.4 L278.3,655.5 L278.9,653.6 L279.7,651.7 L280.6,649.8 L281.5,647.9 L282.6,646.2 L283.8,644.5 L285,643.1 L286.2,641.7 L287.5,640.6 L288.8,639.7 L290,639 L291.1,638.5 L292.2,638.3 L293.3,638.4 L294.2,638.7Z" fill="#fff" stroke="#000" stroke-width="1.6" stroke-linejoin="round"/>
<ellipse cx="294" cy="656.5" rx="16" ry="7.2" transform="rotate(-63.4 294 656.5)" fill="#fff" stroke="#000" stroke-width="1.6" />
<path d="M313.8,641.8 L314.9,642.6 L315.8,643.6 L316.5,645 L316.9,646.7 L317.2,648.6 L317.2,650.7 L317,653 L316.6,655.5 L315.9,658.1 L315.1,660.7 L314.1,663.3 L312.9,665.9 L311.5,668.5 L310,670.9 L308.4,673.1 L306.7,675.2 L305,677 L303.3,678.5 L301.6,679.8 L299.9,680.8 L298.3,681.4 L296.8,681.7 L295.4,681.6 L294.2,681.2 L284.2,676.2 L283.1,675.4 L282.2,674.4 L281.5,673 L281.1,671.3 L280.8,669.4 L280.8,667.3 L281,665 L281.4,662.5 L282.1,659.9 L282.9,657.3 L283.9,654.7 L285.1,652.1 L286.5,649.5 L288,647.1 L289.6,644.9 L291.3,642.8 L293,641 L294.7,639.5 L296.4,638.2 L298.1,637.2 L299.7,636.6 L301.2,636.3 L302.6,636.4 L303.8,636.8Z" fill="#fff" stroke="#000" stroke-width="2.2" stroke-linejoin="round"/>
<ellipse cx="304" cy="661.5" rx="22" ry="9.9" transform="rotate(-63.4 304 661.5)" fill="#fff" stroke="#000" stroke-width="2.2" />
<ellipse cx="305" cy="662" rx="17" ry="7.6" transform="rotate(-64 305 662)" fill="none" stroke="#000" stroke-width="1.6" />
<path d="M326.5,657.7 L327.2,658.2 L327.7,658.8 L328.1,659.6 L328.4,660.5 L328.6,661.7 L328.6,662.9 L328.6,664.3 L328.3,665.8 L328,667.3 L327.5,668.9 L327,670.4 L326.3,672 L325.5,673.5 L324.7,674.9 L323.8,676.3 L322.8,677.5 L321.8,678.6 L320.8,679.6 L319.8,680.4 L318.9,680.9 L317.9,681.3 L317,681.5 L316.2,681.5 L315.5,681.3 L299.5,673.8 L298.8,673.3 L298.3,672.7 L297.9,671.9 L297.6,671 L297.4,669.8 L297.4,668.6 L297.4,667.2 L297.7,665.7 L298,664.2 L298.5,662.6 L299,661.1 L299.7,659.5 L300.5,658 L301.3,656.6 L302.2,655.2 L303.2,654 L304.2,652.9 L305.2,651.9 L306.2,651.1 L307.1,650.6 L308.1,650.2 L309,650 L309.8,650 L310.5,650.2Z" fill="#fff" stroke="#000" stroke-width="1.6" stroke-linejoin="round"/>
<ellipse cx="321" cy="669.5" rx="13" ry="5.9" transform="rotate(-64.9 321 669.5)" fill="#fff" stroke="#000" stroke-width="1.6" />
<path d="M335.6,664 L336.2,664.4 L336.7,664.9 L337.1,665.6 L337.5,666.5 L337.7,667.5 L337.8,668.5 L337.8,669.7 L337.6,671 L337.4,672.3 L337,673.6 L336.6,675 L336,676.3 L335.4,677.6 L334.6,678.8 L333.9,679.9 L333,681 L332.2,681.9 L331.3,682.7 L330.4,683.3 L329.5,683.8 L328.7,684.1 L327.9,684.3 L327.1,684.2 L326.4,684 L314.4,678.5 L313.8,678.1 L313.3,677.6 L312.9,676.9 L312.5,676 L312.3,675 L312.2,674 L312.2,672.8 L312.4,671.5 L312.6,670.2 L313,668.9 L313.4,667.5 L314,666.2 L314.6,664.9 L315.4,663.7 L316.1,662.6 L317,661.5 L317.8,660.6 L318.7,659.8 L319.6,659.2 L320.5,658.7 L321.3,658.4 L322.1,658.2 L322.9,658.3 L323.6,658.5Z" fill="#000" stroke="#000" stroke-width="1.3" stroke-linejoin="round"/>
<ellipse cx="331" cy="674" rx="11" ry="5.5" transform="rotate(-65.4 331 674)" fill="#000" stroke="#000" stroke-width="1.3" />
<path d="M388.6,701.5 L388.9,701.7 L389.2,702 L389.4,702.4 L389.5,702.8 L389.6,703.3 L389.6,703.8 L389.6,704.4 L389.4,705 L389.3,705.6 L389.1,706.2 L388.8,706.8 L388.5,707.4 L388.1,708 L387.7,708.6 L387.3,709 L386.8,709.5 L386.4,709.9 L385.9,710.2 L385.4,710.4 L385,710.6 L384.5,710.7 L384.1,710.7 L383.7,710.6 L383.4,710.5 L327.4,678 L327.1,677.8 L326.8,677.5 L326.6,677.1 L326.5,676.7 L326.4,676.2 L326.4,675.7 L326.4,675.1 L326.6,674.5 L326.7,673.9 L326.9,673.3 L327.2,672.7 L327.5,672.1 L327.9,671.5 L328.3,670.9 L328.7,670.5 L329.2,670 L329.6,669.6 L330.1,669.3 L330.6,669.1 L331,668.9 L331.5,668.8 L331.9,668.8 L332.3,668.9 L332.6,669Z" fill="url(#thread)" stroke="#000" stroke-width="1.5" stroke-linejoin="round"/>
<ellipse cx="386" cy="706" rx="5.2" ry="2.9" transform="rotate(-59.9 386 706)" fill="#fff" stroke="#000" stroke-width="1.8" />
<path d="M335,680 L382,707" stroke="#fff" stroke-width="1.3"/>
<g stroke="#000" fill="#fff">
<path d="M428.5,676 L428.5,698 A12.5,4 0 0 0 453.5,698 L453.5,676" stroke-width="1.6"/>
<rect x="428.5" y="684" width="25" height="4" fill="#000" stroke="none"/>
<rect x="428.5" y="695" width="25" height="3" fill="#000" stroke="none"/>
<path d="M425,664 L425,672 A16,5 0 0 0 457,672 L457,664" stroke-width="1.6"/>
<ellipse cx="441" cy="664" rx="16" ry="5" stroke-width="1.6"/>
<path d="M427.5,654 L427.5,667 L434,670.5 L448,670.5 L454.5,667 L454.5,654" stroke-width="1.6"/>
<path d="M434,658 L434,670.5 M448,658 L448,670.5" stroke-width="1.2"/>
<path d="M427.5,654 L434,650 L448,650 L454.5,654 L448,658 L434,658 Z" stroke-width="1.6"/>
<ellipse cx="441" cy="654" rx="7" ry="3.4" stroke-width="1.6"/>
<ellipse cx="441" cy="654.5" rx="4" ry="2" stroke-width="1"/>
</g>
<g stroke="#888" stroke-width="1.1" fill="none">
<rect x="490.6" y="648.2" width="114.3" height="4.4" rx="2.2" fill="#fff"/>
<path d="M497,653 L511.2,678.2 L583,678.2 M598.6,653.4 L592,665"/>
<path d="M507,669.4 L511,669.4 M519,669.4 L532,670 M540,670.5 L553,670.5 M561,670 L573,669.4 M580,669.4 L588,669.4" stroke-width="1.3"/>
<path d="M521,673.5 C520,678 518,682 518,685 C519,687 522,686 522,684 C523,680 525,676 526,673.5 M571,673.5 C571,678 572,682 573,685 C575,687 578,686 577,684 C576,680 576,676 577,673.5"/>
</g>
<path d="M548,684 C550,681 553,680 557,680 L583,680.5 C587,680 588,678 590,674 L596,662" stroke="#000" stroke-width="3" fill="none"/>
<path d="M548,684 C550,681 553,680 557,680 L583,680.5 C587,680 588,678 590,674 L596,662" stroke="#fff" stroke-width="0.8" fill="none"/>
<rect x="557" y="678" width="13" height="6" fill="#000"/>
<path d="M587,668 L592,657 L599,660 L594,671 Z" fill="#000"/>
<g stroke="#000" stroke-width="1.3">
<path d="M175.3,797 L175.3,771 A4.7,4.7 0 0 1 184.7,771 L184.7,797" fill="#fff"/>
<path d="M180,770 L180,796 M177,771.6 h6 M177,776.4 h6 M177,781.2 h6 M177,786 h6 M177,790.8 h6 M177,795.6 h6" stroke-width="1"/>
<circle cx="179.9" cy="805.7" r="7.9" fill="#000"/>
<rect x="175.3" y="796" width="9.4" height="6" fill="#000"/>
<path d="M262.6,797 L262.6,771 A4.9,4.9 0 0 1 272.4,771 L272.4,797" fill="#fff"/>
<rect x="262.6" y="777" width="9.8" height="25" fill="#000"/>
<path d="M267.5,769 L267.5,776 M265.5,772 h4" stroke-width="1"/>
<circle cx="267.6" cy="806.1" r="8" fill="#000"/>
</g>
<path d="M199.8,779.2 L200.8,777.6 L201.8,776.2 L203,774.7 L204.2,773.4 L205.6,772.1 L207,771 L208.5,769.9 L210,768.9 L211.6,768 L213.3,767.3 L215,766.6 L216.8,766 L218.5,765.6 L220.3,765.3 L222.2,765.1 L224,765 L225.8,765 L227.7,765.2 L229.5,765.5 L231.3,765.8 L233,766.3 L234.8,767 L236.4,767.7 L238.1,768.5 L239.7,769.4 L241.2,770.5 L242.6,771.6 L244,772.8 L245.3,774.1 L246.5,775.5 L247.6,777 L248.6,778.5 L249.5,780.1 L250.3,781.8 L251,783.5 L251.6,785.2 L252.1,787 L252.4,788.8 L252.7,790.6 L252.8,792.4" stroke="#000" stroke-width="8" fill="none"/>
<path d="M249.5,806.7 L248.6,808.3 L247.5,809.9 L246.4,811.4 L245.2,812.8 L243.9,814.1 L242.5,815.3 L241,816.4 L239.4,817.5 L237.8,818.4 L236.2,819.2 L234.5,820 L232.7,820.6 L230.9,821 L229.1,821.4 L227.2,821.7 L225.4,821.8 L223.5,821.8 L221.7,821.7 L219.8,821.4 L218,821.1 L216.2,820.6 L214.5,820 L212.7,819.3 L211.1,818.5 L209.5,817.6 L207.9,816.5 L206.4,815.4 L205,814.2 L203.7,812.9 L202.5,811.5 L201.4,810 L200.3,808.4 L199.4,806.8 L198.6,805.2 L197.8,803.5 L197.2,801.7 L196.8,799.9 L196.4,798.1 L196.1,796.2 L196,794.4" stroke="#000" stroke-width="8" fill="none"/>
<polygon points="243.3,792.7 262.3,792.1 249.3,803.5" fill="#000"/>
<polygon points="205.5,794.1 186.5,794.7 199.5,783.3" fill="#000"/>
<g stroke="#000" stroke-width="1.6" fill="#fff" stroke-linejoin="round">
<path d="M318,810 L318,821 A11.5,3.5 0 0 0 341,821 L341,810 Z"/>
<path d="M318,813 h23 M318,817 h23" stroke-width="1.8"/>
<path d="M320,822 L320,835 A9.8,3.5 0 0 0 339.6,835 L339.6,822"/>
<path d="M307.5,783.5 L308,801 L312,801 L312,791 L323.5,798 L324,810 L331,810 L331,797.5 L347,789 L347.5,809 L352.3,809 L351.5,779.5 L329.4,771 Z"/>
<path d="M307.5,783.5 L330.2,797.5 L351.5,779.5" fill="none"/>
<path d="M307.5,783.5 L329.4,771 L341,773 L351.5,779.5 L330.2,797.5 Z"/>
<ellipse cx="330.2" cy="784.2" rx="12.5" ry="6" transform="rotate(-8 330.2 784.2)"/>
<ellipse cx="330.2" cy="784.2" rx="8" ry="4.2" transform="rotate(-8 330.2 784.2)"/>
<ellipse cx="330.4" cy="784" rx="4" ry="2"/>
</g>
<circle cx="406.3" cy="771.3" r="26" fill="#fff" stroke="#000" stroke-width="1.1"/>
<circle cx="406.3" cy="771.3" r="24" fill="none" stroke="#888" stroke-width="2.8"/>
<circle cx="406.3" cy="771.3" r="22.2" fill="none" stroke="#000" stroke-width="1"/>
<g transform="translate(406.3,771.3)" stroke="#000" stroke-width="1.2" fill="none">
<path d="M-17,-12 L5,-2 C9,0 10,4 7,6 L3,6 L-19,-5 M-11,-18 L8,-9 C11,-7 10,-3 7,-2"/>
<path d="M0,4 L2,8 L4,6" />
<path d="M-1,7 L5,7 L7,22 L-3,22 Z" fill="#000"/>
<path d="M-19,12 L20,-12" stroke="#888" stroke-width="3.4"/>
<path d="M-20,10.5 L19.5,-13.5 M-18.5,13.5 L21,-10.5" stroke-width="0.9"/>
</g>
<circle cx="467.9" cy="810.2" r="26" fill="#fff" stroke="#000" stroke-width="1.1"/>
<circle cx="467.9" cy="810.2" r="24" fill="none" stroke="#888" stroke-width="2.8"/>
<circle cx="467.9" cy="810.2" r="22.2" fill="none" stroke="#000" stroke-width="1"/>
<g transform="translate(467.9,810.2)" stroke="#000" stroke-width="1.2" fill="none">
<path d="M-17,-12 L5,-2 C9,0 10,4 7,6 L3,6 L-19,-5 M-11,-18 L8,-9 C11,-7 10,-3 7,-2"/>
<path d="M0,4 L2,8 L4,6" />
<path d="M-1,7 L5,7 L7,22 L-3,22 Z" fill="#000"/>
</g>
<path d="M582.1,796.7 L582.4,796.9 L582.6,797.2 L582.8,797.5 L582.9,797.9 L583,798.3 L583.1,798.7 L583.1,799.2 L583,799.7 L582.9,800.2 L582.7,800.7 L582.5,801.2 L582.3,801.7 L582,802.2 L581.6,802.7 L581.3,803.1 L580.9,803.5 L580.5,803.8 L580.1,804 L579.7,804.2 L579.3,804.4 L578.9,804.5 L578.6,804.5 L578.2,804.4 L577.9,804.3 L535.4,780.8 L535.1,780.6 L534.9,780.3 L534.7,780 L534.6,779.6 L534.5,779.2 L534.4,778.8 L534.4,778.3 L534.5,777.8 L534.6,777.3 L534.8,776.8 L535,776.3 L535.2,775.8 L535.5,775.3 L535.9,774.8 L536.2,774.4 L536.6,774 L537,773.7 L537.4,773.5 L537.8,773.3 L538.2,773.1 L538.6,773 L538.9,773 L539.3,773.1 L539.6,773.2Z" fill="url(#thread2)" stroke="#000" stroke-width="1.6" stroke-linejoin="round"/>
<ellipse cx="580" cy="800.5" rx="4.3" ry="2.6" transform="rotate(-61.1 580 800.5)" fill="#fff" stroke="#000" stroke-width="1.4" />
<path d="M539,780 L578,801.5" stroke="#fff" stroke-width="0.9"/>
<path d="M539.2,821.2 L539.7,821.5 L540.1,821.9 L540.5,822.5 L540.8,823.1 L541.1,823.8 L541.2,824.6 L541.3,825.4 L541.2,826.3 L541.1,827.2 L540.9,828.1 L540.6,829.1 L540.2,830 L539.8,830.8 L539.3,831.7 L538.7,832.4 L538.1,833.1 L537.4,833.7 L536.7,834.2 L536.1,834.6 L535.4,834.9 L534.7,835 L534,835.1 L533.4,835 L532.8,834.8 L505.1,821.9 L504.6,821.6 L504.2,821.2 L503.8,820.6 L503.5,820 L503.2,819.3 L503.1,818.5 L503,817.7 L503.1,816.8 L503.2,815.9 L503.4,815 L503.7,814 L504.1,813.1 L504.5,812.3 L505,811.4 L505.6,810.7 L506.2,810 L506.9,809.4 L507.6,808.9 L508.2,808.5 L508.9,808.2 L509.6,808.1 L510.3,808 L510.9,808.1 L511.5,808.3Z" fill="#fff" stroke="#000" stroke-width="1.4" stroke-linejoin="round"/>
<ellipse cx="536" cy="828" rx="7.5" ry="4.7" transform="rotate(-65 536 828)" fill="#fff" stroke="#000" stroke-width="2.2" />
<path d="M511,809 L538,822" stroke="#000" stroke-width="2.2"/>
<path d="M577.8,813 L578.4,813.5 L578.9,814.1 L579.3,814.8 L579.6,815.6 L579.8,816.5 L579.9,817.5 L579.8,818.5 L579.7,819.6 L579.4,820.7 L579,821.8 L578.5,822.9 L577.9,824 L577.3,825 L576.5,825.9 L575.7,826.8 L574.9,827.6 L574,828.2 L573.1,828.7 L572.2,829.1 L571.3,829.4 L570.5,829.5 L569.7,829.5 L568.9,829.3 L568.2,829 L538.2,811 L537.6,810.5 L537.1,809.9 L536.7,809.2 L536.4,808.4 L536.2,807.5 L536.1,806.5 L536.2,805.5 L536.3,804.4 L536.6,803.3 L537,802.2 L537.5,801.1 L538.1,800 L538.7,799 L539.5,798.1 L540.3,797.2 L541.1,796.4 L542,795.8 L542.9,795.3 L543.8,794.9 L544.7,794.6 L545.5,794.5 L546.3,794.5 L547.1,794.7 L547.8,795Z" fill="#fff" stroke="#000" stroke-width="1.2" stroke-linejoin="round"/>
<polygon points="584,817.2 585.1,819.6 584.2,822.1 584.4,824.2 585.7,826.9 585,829.1 582.7,829.9 581.5,831.2 580.9,833.9 579,834.6 576.6,833.1 574.7,832.9 572.5,833.9 570.4,832.8 569.3,830 567.8,828.4 565.4,827.2 564.3,824.8 565.2,822.3 565,820.2 563.7,817.5 564.4,815.3 566.7,814.5 567.9,813.2 568.5,810.5 570.4,809.8 572.8,811.3 574.7,811.5 576.9,810.5 579,811.6 580.1,814.4 581.6,816" fill="#fff" stroke="#000" stroke-width="1.3"/>
<ellipse cx="575.5" cy="822.2" rx="9" ry="7" transform="rotate(-70 575.5 822.2)" fill="#fff" stroke="#000" stroke-width="1.3" />
<g stroke="#000" fill="#fff" stroke-width="1.3">
<path d="M601.5,749 L630.5,748 L630.5,837.5 L601.5,836 Z" stroke-width="1.6"/>
<path d="M602,749 L602,836" stroke-width="2.6"/>
<path d="M607,751 L607,835 M614,750 L614,836 M616,750 L616,836 M624.5,749 L624.5,837" stroke-width="1.1"/>
<path d="M630,748 L630,837.5" stroke-width="2.4"/>
<circle cx="614.7" cy="791.8" r="6.5" fill="#fff" stroke-width="3"/><circle cx="614.7" cy="791.8" r="2.2" fill="#000"/>
<ellipse cx="614.7" cy="827" rx="6.5" ry="5" fill="#fff" stroke-width="3"/><ellipse cx="614.7" cy="827" rx="2.5" ry="1.5" fill="#000"/>
<rect x="631" y="760.5" width="12" height="31" stroke-width="1.6"/>
<rect x="643" y="766" width="3" height="22" stroke-width="1.2"/>
<rect x="631" y="791.8" width="10" height="10" stroke-width="1.2"/>
<rect x="631" y="801.5" width="16" height="35.5" stroke-width="1.6"/>
<rect x="647" y="807" width="3" height="24" stroke-width="1.2"/>
<rect x="653" y="770" width="7" height="18" stroke-width="1.6"/>
<path d="M646,772 L653,772 M646,786 L653,786"/>
<rect x="660" y="774.5" width="19" height="3.2" fill="#000" stroke="none"/>
<rect x="660" y="780" width="19" height="3.5" fill="#000" stroke="none"/>
<rect x="679" y="775" width="17" height="2.5" fill="#999" stroke="none"/>
<rect x="679" y="780.3" width="17" height="2.5" fill="#999" stroke="none"/>
<rect x="650" y="811" width="23" height="15" fill="#000" stroke="none"/>
<path d="M650,815 L673,815 M650,821.5 L673,821.5" stroke="#fff" stroke-width="1.3"/>
</g>
<g stroke="#000" stroke-width="1" fill="none">
<path d="M643.5,761 L672,761 M679.6,755.5 L679.6,776.7 M696.3,755.5 L696.3,783 M705,761 L714,761"/>
</g>
<polygon points="672,759 679,761 672,763" fill="#888"/>
<polygon points="705,759 697.5,761 705,763" fill="#888"/>
<text x="636" y="759.5" font-size="17" fill="#111">+25</text>
</svg>
</body></html>
